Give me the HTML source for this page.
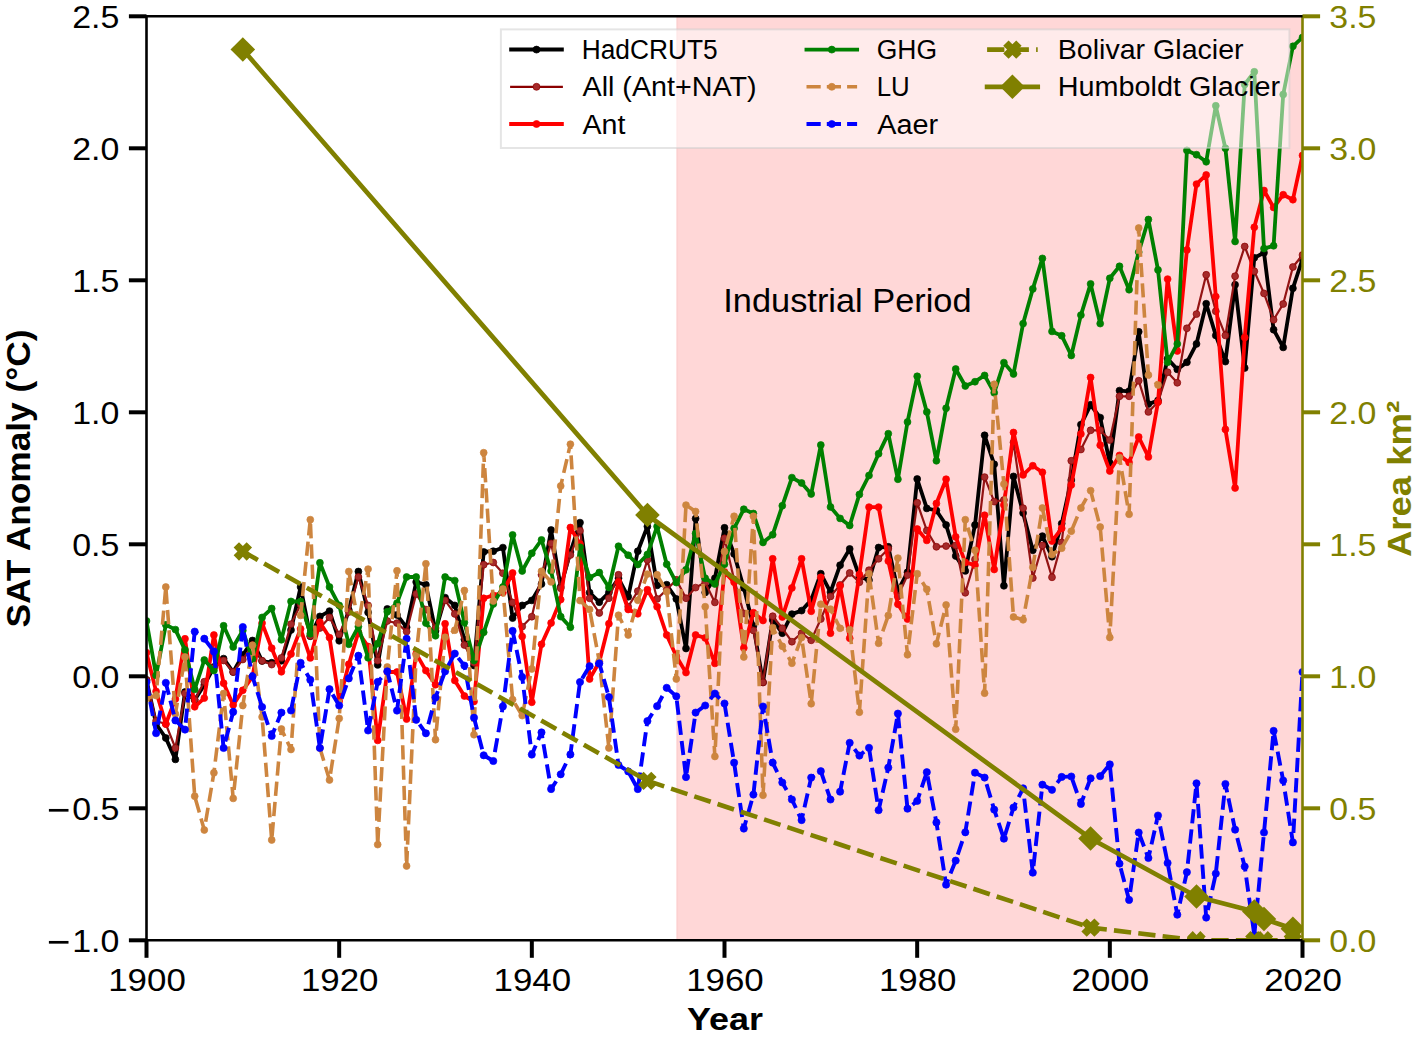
<!DOCTYPE html><html><head><meta charset="utf-8"><title>SAT anomaly</title><style>html,body{margin:0;padding:0;background:#fff;overflow:hidden;}svg{display:block;}</style></head><body><svg width="1416" height="1037" viewBox="0 0 1416 1037">
<rect x="0" y="0" width="1416" height="1037" fill="#ffffff"/>
<defs><clipPath id="ax"><rect x="146.5" y="16.3" width="1156.0" height="924.0"/></clipPath></defs>
<rect x="676.63" y="16.3" width="625.87" height="924.0" fill="#FFD7D7"/>
<line x1="677.33" y1="16.3" x2="677.33" y2="940.3" stroke="#FCD0D0" stroke-width="1.6"/>
<g clip-path="url(#ax)">
<polyline points="146.5,680.0 156.1,724.0 165.8,738.0 175.4,759.4 185.0,692.0 194.7,700.0 204.3,685.0 213.9,667.0 223.6,658.6 233.2,672.0 242.8,655.0 252.5,640.5 262.1,661.0 271.7,662.7 281.4,660.8 291.0,630.0 300.6,587.0 310.3,636.2 319.9,616.4 329.5,611.1 339.2,640.8 348.8,610.0 358.4,571.5 368.1,612.4 377.7,664.9 387.3,608.9 397.0,615.0 406.6,627.3 416.2,582.0 425.9,584.8 435.5,630.9 445.1,597.6 454.8,605.4 464.4,639.4 474.0,665.6 483.7,551.9 493.3,551.2 502.9,547.6 512.6,618.1 522.2,605.4 531.8,600.4 541.5,584.0 551.1,530.0 560.7,586.9 570.4,552.0 580.0,522.6 589.6,592.6 599.3,602.2 608.9,592.5 618.5,578.3 628.2,596.8 637.8,551.2 647.4,526.4 657.1,585.4 666.7,584.7 676.3,598.9 686.0,648.5 695.6,518.6 705.2,592.5 714.9,578.3 724.5,527.8 734.1,553.9 743.8,587.9 753.4,626.0 763.0,682.4 772.7,620.0 782.3,633.2 791.9,614.1 801.6,610.6 811.2,600.0 820.8,573.7 830.5,592.1 840.1,565.2 849.7,548.9 859.4,576.5 869.0,580.1 878.6,547.5 888.3,546.8 897.9,590.7 907.5,572.3 917.2,479.0 926.8,508.4 936.4,510.5 946.1,525.0 955.7,556.0 965.3,570.9 975.0,525.0 984.6,435.3 994.2,464.3 1003.9,585.8 1013.5,476.4 1023.1,513.0 1032.8,550.3 1042.4,536.1 1052.0,556.7 1061.7,523.6 1071.3,480.0 1080.9,424.6 1090.6,404.8 1100.2,417.6 1109.8,463.0 1119.5,390.6 1129.1,391.3 1138.7,331.8 1148.4,404.1 1158.0,400.5 1167.6,358.7 1177.3,369.4 1186.9,362.3 1196.5,343.9 1206.2,303.7 1215.8,335.4 1225.4,361.6 1235.1,284.7 1244.7,368.0 1254.3,257.8 1264.0,252.8 1273.6,329.7 1283.2,347.4 1292.9,288.3 1302.5,259.0" fill="none" stroke="#000000" stroke-width="3.8" stroke-linejoin="round"/>
<circle cx="146.5" cy="680.0" r="3.45" fill="#000000" stroke="#000000" stroke-width="0.7"/>
<circle cx="156.1" cy="724.0" r="3.45" fill="#000000" stroke="#000000" stroke-width="0.7"/>
<circle cx="165.8" cy="738.0" r="3.45" fill="#000000" stroke="#000000" stroke-width="0.7"/>
<circle cx="175.4" cy="759.4" r="3.45" fill="#000000" stroke="#000000" stroke-width="0.7"/>
<circle cx="185.0" cy="692.0" r="3.45" fill="#000000" stroke="#000000" stroke-width="0.7"/>
<circle cx="194.7" cy="700.0" r="3.45" fill="#000000" stroke="#000000" stroke-width="0.7"/>
<circle cx="204.3" cy="685.0" r="3.45" fill="#000000" stroke="#000000" stroke-width="0.7"/>
<circle cx="213.9" cy="667.0" r="3.45" fill="#000000" stroke="#000000" stroke-width="0.7"/>
<circle cx="223.6" cy="658.6" r="3.45" fill="#000000" stroke="#000000" stroke-width="0.7"/>
<circle cx="233.2" cy="672.0" r="3.45" fill="#000000" stroke="#000000" stroke-width="0.7"/>
<circle cx="242.8" cy="655.0" r="3.45" fill="#000000" stroke="#000000" stroke-width="0.7"/>
<circle cx="252.5" cy="640.5" r="3.45" fill="#000000" stroke="#000000" stroke-width="0.7"/>
<circle cx="262.1" cy="661.0" r="3.45" fill="#000000" stroke="#000000" stroke-width="0.7"/>
<circle cx="271.7" cy="662.7" r="3.45" fill="#000000" stroke="#000000" stroke-width="0.7"/>
<circle cx="281.4" cy="660.8" r="3.45" fill="#000000" stroke="#000000" stroke-width="0.7"/>
<circle cx="291.0" cy="630.0" r="3.45" fill="#000000" stroke="#000000" stroke-width="0.7"/>
<circle cx="300.6" cy="587.0" r="3.45" fill="#000000" stroke="#000000" stroke-width="0.7"/>
<circle cx="310.3" cy="636.2" r="3.45" fill="#000000" stroke="#000000" stroke-width="0.7"/>
<circle cx="319.9" cy="616.4" r="3.45" fill="#000000" stroke="#000000" stroke-width="0.7"/>
<circle cx="329.5" cy="611.1" r="3.45" fill="#000000" stroke="#000000" stroke-width="0.7"/>
<circle cx="339.2" cy="640.8" r="3.45" fill="#000000" stroke="#000000" stroke-width="0.7"/>
<circle cx="348.8" cy="610.0" r="3.45" fill="#000000" stroke="#000000" stroke-width="0.7"/>
<circle cx="358.4" cy="571.5" r="3.45" fill="#000000" stroke="#000000" stroke-width="0.7"/>
<circle cx="368.1" cy="612.4" r="3.45" fill="#000000" stroke="#000000" stroke-width="0.7"/>
<circle cx="377.7" cy="664.9" r="3.45" fill="#000000" stroke="#000000" stroke-width="0.7"/>
<circle cx="387.3" cy="608.9" r="3.45" fill="#000000" stroke="#000000" stroke-width="0.7"/>
<circle cx="397.0" cy="615.0" r="3.45" fill="#000000" stroke="#000000" stroke-width="0.7"/>
<circle cx="406.6" cy="627.3" r="3.45" fill="#000000" stroke="#000000" stroke-width="0.7"/>
<circle cx="416.2" cy="582.0" r="3.45" fill="#000000" stroke="#000000" stroke-width="0.7"/>
<circle cx="425.9" cy="584.8" r="3.45" fill="#000000" stroke="#000000" stroke-width="0.7"/>
<circle cx="435.5" cy="630.9" r="3.45" fill="#000000" stroke="#000000" stroke-width="0.7"/>
<circle cx="445.1" cy="597.6" r="3.45" fill="#000000" stroke="#000000" stroke-width="0.7"/>
<circle cx="454.8" cy="605.4" r="3.45" fill="#000000" stroke="#000000" stroke-width="0.7"/>
<circle cx="464.4" cy="639.4" r="3.45" fill="#000000" stroke="#000000" stroke-width="0.7"/>
<circle cx="474.0" cy="665.6" r="3.45" fill="#000000" stroke="#000000" stroke-width="0.7"/>
<circle cx="483.7" cy="551.9" r="3.45" fill="#000000" stroke="#000000" stroke-width="0.7"/>
<circle cx="493.3" cy="551.2" r="3.45" fill="#000000" stroke="#000000" stroke-width="0.7"/>
<circle cx="502.9" cy="547.6" r="3.45" fill="#000000" stroke="#000000" stroke-width="0.7"/>
<circle cx="512.6" cy="618.1" r="3.45" fill="#000000" stroke="#000000" stroke-width="0.7"/>
<circle cx="522.2" cy="605.4" r="3.45" fill="#000000" stroke="#000000" stroke-width="0.7"/>
<circle cx="531.8" cy="600.4" r="3.45" fill="#000000" stroke="#000000" stroke-width="0.7"/>
<circle cx="541.5" cy="584.0" r="3.45" fill="#000000" stroke="#000000" stroke-width="0.7"/>
<circle cx="551.1" cy="530.0" r="3.45" fill="#000000" stroke="#000000" stroke-width="0.7"/>
<circle cx="560.7" cy="586.9" r="3.45" fill="#000000" stroke="#000000" stroke-width="0.7"/>
<circle cx="570.4" cy="552.0" r="3.45" fill="#000000" stroke="#000000" stroke-width="0.7"/>
<circle cx="580.0" cy="522.6" r="3.45" fill="#000000" stroke="#000000" stroke-width="0.7"/>
<circle cx="589.6" cy="592.6" r="3.45" fill="#000000" stroke="#000000" stroke-width="0.7"/>
<circle cx="599.3" cy="602.2" r="3.45" fill="#000000" stroke="#000000" stroke-width="0.7"/>
<circle cx="608.9" cy="592.5" r="3.45" fill="#000000" stroke="#000000" stroke-width="0.7"/>
<circle cx="618.5" cy="578.3" r="3.45" fill="#000000" stroke="#000000" stroke-width="0.7"/>
<circle cx="628.2" cy="596.8" r="3.45" fill="#000000" stroke="#000000" stroke-width="0.7"/>
<circle cx="637.8" cy="551.2" r="3.45" fill="#000000" stroke="#000000" stroke-width="0.7"/>
<circle cx="647.4" cy="526.4" r="3.45" fill="#000000" stroke="#000000" stroke-width="0.7"/>
<circle cx="657.1" cy="585.4" r="3.45" fill="#000000" stroke="#000000" stroke-width="0.7"/>
<circle cx="666.7" cy="584.7" r="3.45" fill="#000000" stroke="#000000" stroke-width="0.7"/>
<circle cx="676.3" cy="598.9" r="3.45" fill="#000000" stroke="#000000" stroke-width="0.7"/>
<circle cx="686.0" cy="648.5" r="3.45" fill="#000000" stroke="#000000" stroke-width="0.7"/>
<circle cx="695.6" cy="518.6" r="3.45" fill="#000000" stroke="#000000" stroke-width="0.7"/>
<circle cx="705.2" cy="592.5" r="3.45" fill="#000000" stroke="#000000" stroke-width="0.7"/>
<circle cx="714.9" cy="578.3" r="3.45" fill="#000000" stroke="#000000" stroke-width="0.7"/>
<circle cx="724.5" cy="527.8" r="3.45" fill="#000000" stroke="#000000" stroke-width="0.7"/>
<circle cx="734.1" cy="553.9" r="3.45" fill="#000000" stroke="#000000" stroke-width="0.7"/>
<circle cx="743.8" cy="587.9" r="3.45" fill="#000000" stroke="#000000" stroke-width="0.7"/>
<circle cx="753.4" cy="626.0" r="3.45" fill="#000000" stroke="#000000" stroke-width="0.7"/>
<circle cx="763.0" cy="682.4" r="3.45" fill="#000000" stroke="#000000" stroke-width="0.7"/>
<circle cx="772.7" cy="620.0" r="3.45" fill="#000000" stroke="#000000" stroke-width="0.7"/>
<circle cx="782.3" cy="633.2" r="3.45" fill="#000000" stroke="#000000" stroke-width="0.7"/>
<circle cx="791.9" cy="614.1" r="3.45" fill="#000000" stroke="#000000" stroke-width="0.7"/>
<circle cx="801.6" cy="610.6" r="3.45" fill="#000000" stroke="#000000" stroke-width="0.7"/>
<circle cx="811.2" cy="600.0" r="3.45" fill="#000000" stroke="#000000" stroke-width="0.7"/>
<circle cx="820.8" cy="573.7" r="3.45" fill="#000000" stroke="#000000" stroke-width="0.7"/>
<circle cx="830.5" cy="592.1" r="3.45" fill="#000000" stroke="#000000" stroke-width="0.7"/>
<circle cx="840.1" cy="565.2" r="3.45" fill="#000000" stroke="#000000" stroke-width="0.7"/>
<circle cx="849.7" cy="548.9" r="3.45" fill="#000000" stroke="#000000" stroke-width="0.7"/>
<circle cx="859.4" cy="576.5" r="3.45" fill="#000000" stroke="#000000" stroke-width="0.7"/>
<circle cx="869.0" cy="580.1" r="3.45" fill="#000000" stroke="#000000" stroke-width="0.7"/>
<circle cx="878.6" cy="547.5" r="3.45" fill="#000000" stroke="#000000" stroke-width="0.7"/>
<circle cx="888.3" cy="546.8" r="3.45" fill="#000000" stroke="#000000" stroke-width="0.7"/>
<circle cx="897.9" cy="590.7" r="3.45" fill="#000000" stroke="#000000" stroke-width="0.7"/>
<circle cx="907.5" cy="572.3" r="3.45" fill="#000000" stroke="#000000" stroke-width="0.7"/>
<circle cx="917.2" cy="479.0" r="3.45" fill="#000000" stroke="#000000" stroke-width="0.7"/>
<circle cx="926.8" cy="508.4" r="3.45" fill="#000000" stroke="#000000" stroke-width="0.7"/>
<circle cx="936.4" cy="510.5" r="3.45" fill="#000000" stroke="#000000" stroke-width="0.7"/>
<circle cx="946.1" cy="525.0" r="3.45" fill="#000000" stroke="#000000" stroke-width="0.7"/>
<circle cx="955.7" cy="556.0" r="3.45" fill="#000000" stroke="#000000" stroke-width="0.7"/>
<circle cx="965.3" cy="570.9" r="3.45" fill="#000000" stroke="#000000" stroke-width="0.7"/>
<circle cx="975.0" cy="525.0" r="3.45" fill="#000000" stroke="#000000" stroke-width="0.7"/>
<circle cx="984.6" cy="435.3" r="3.45" fill="#000000" stroke="#000000" stroke-width="0.7"/>
<circle cx="994.2" cy="464.3" r="3.45" fill="#000000" stroke="#000000" stroke-width="0.7"/>
<circle cx="1003.9" cy="585.8" r="3.45" fill="#000000" stroke="#000000" stroke-width="0.7"/>
<circle cx="1013.5" cy="476.4" r="3.45" fill="#000000" stroke="#000000" stroke-width="0.7"/>
<circle cx="1023.1" cy="513.0" r="3.45" fill="#000000" stroke="#000000" stroke-width="0.7"/>
<circle cx="1032.8" cy="550.3" r="3.45" fill="#000000" stroke="#000000" stroke-width="0.7"/>
<circle cx="1042.4" cy="536.1" r="3.45" fill="#000000" stroke="#000000" stroke-width="0.7"/>
<circle cx="1052.0" cy="556.7" r="3.45" fill="#000000" stroke="#000000" stroke-width="0.7"/>
<circle cx="1061.7" cy="523.6" r="3.45" fill="#000000" stroke="#000000" stroke-width="0.7"/>
<circle cx="1071.3" cy="480.0" r="3.45" fill="#000000" stroke="#000000" stroke-width="0.7"/>
<circle cx="1080.9" cy="424.6" r="3.45" fill="#000000" stroke="#000000" stroke-width="0.7"/>
<circle cx="1090.6" cy="404.8" r="3.45" fill="#000000" stroke="#000000" stroke-width="0.7"/>
<circle cx="1100.2" cy="417.6" r="3.45" fill="#000000" stroke="#000000" stroke-width="0.7"/>
<circle cx="1109.8" cy="463.0" r="3.45" fill="#000000" stroke="#000000" stroke-width="0.7"/>
<circle cx="1119.5" cy="390.6" r="3.45" fill="#000000" stroke="#000000" stroke-width="0.7"/>
<circle cx="1129.1" cy="391.3" r="3.45" fill="#000000" stroke="#000000" stroke-width="0.7"/>
<circle cx="1138.7" cy="331.8" r="3.45" fill="#000000" stroke="#000000" stroke-width="0.7"/>
<circle cx="1148.4" cy="404.1" r="3.45" fill="#000000" stroke="#000000" stroke-width="0.7"/>
<circle cx="1158.0" cy="400.5" r="3.45" fill="#000000" stroke="#000000" stroke-width="0.7"/>
<circle cx="1167.6" cy="358.7" r="3.45" fill="#000000" stroke="#000000" stroke-width="0.7"/>
<circle cx="1177.3" cy="369.4" r="3.45" fill="#000000" stroke="#000000" stroke-width="0.7"/>
<circle cx="1186.9" cy="362.3" r="3.45" fill="#000000" stroke="#000000" stroke-width="0.7"/>
<circle cx="1196.5" cy="343.9" r="3.45" fill="#000000" stroke="#000000" stroke-width="0.7"/>
<circle cx="1206.2" cy="303.7" r="3.45" fill="#000000" stroke="#000000" stroke-width="0.7"/>
<circle cx="1215.8" cy="335.4" r="3.45" fill="#000000" stroke="#000000" stroke-width="0.7"/>
<circle cx="1225.4" cy="361.6" r="3.45" fill="#000000" stroke="#000000" stroke-width="0.7"/>
<circle cx="1235.1" cy="284.7" r="3.45" fill="#000000" stroke="#000000" stroke-width="0.7"/>
<circle cx="1244.7" cy="368.0" r="3.45" fill="#000000" stroke="#000000" stroke-width="0.7"/>
<circle cx="1254.3" cy="257.8" r="3.45" fill="#000000" stroke="#000000" stroke-width="0.7"/>
<circle cx="1264.0" cy="252.8" r="3.45" fill="#000000" stroke="#000000" stroke-width="0.7"/>
<circle cx="1273.6" cy="329.7" r="3.45" fill="#000000" stroke="#000000" stroke-width="0.7"/>
<circle cx="1283.2" cy="347.4" r="3.45" fill="#000000" stroke="#000000" stroke-width="0.7"/>
<circle cx="1292.9" cy="288.3" r="3.45" fill="#000000" stroke="#000000" stroke-width="0.7"/>
<circle cx="1302.5" cy="259.0" r="3.45" fill="#000000" stroke="#000000" stroke-width="0.7"/>
</g>
<g clip-path="url(#ax)">
<polyline points="146.5,680.0 156.1,721.0 165.8,724.0 175.4,748.0 185.0,693.5 194.7,700.0 204.3,681.7 213.9,668.0 223.6,660.5 233.2,672.0 242.8,659.5 252.5,645.0 262.1,660.8 271.7,664.6 281.4,657.9 291.0,624.1 300.6,604.8 310.3,636.0 319.9,628.0 329.5,617.4 339.2,634.4 348.8,612.0 358.4,577.0 368.1,605.4 377.7,660.6 387.3,621.0 397.0,623.1 406.6,631.6 416.2,594.0 425.9,609.6 435.5,628.0 445.1,600.4 454.8,613.9 464.4,645.0 474.0,662.8 483.7,564.7 493.3,562.5 502.9,573.2 512.6,602.5 522.2,626.6 531.8,616.7 541.5,574.8 551.1,543.4 560.7,588.3 570.4,555.0 580.0,530.7 589.6,598.3 599.3,613.0 608.9,598.2 618.5,574.8 628.2,606.7 637.8,591.1 647.4,559.9 657.1,598.9 666.7,589.7 676.3,579.8 686.0,598.2 695.6,587.6 705.2,582.6 714.9,602.4 724.5,538.3 734.1,579.4 743.8,613.4 753.4,630.4 763.0,682.4 772.7,616.2 782.3,628.3 791.9,641.7 801.6,633.2 811.2,640.3 820.8,619.0 830.5,596.4 840.1,585.0 849.7,573.0 859.4,582.2 869.0,570.2 878.6,558.8 888.3,548.9 897.9,596.4 907.5,575.1 917.2,502.8 926.8,530.5 936.4,546.8 946.1,546.1 955.7,545.4 965.3,592.8 975.0,559.5 984.6,477.1 994.2,501.6 1003.9,500.0 1013.5,442.4 1023.1,508.2 1032.8,578.0 1042.4,545.4 1052.0,577.3 1061.7,542.5 1071.3,460.8 1080.9,449.5 1090.6,430.3 1100.2,430.3 1109.8,440.0 1119.5,396.3 1129.1,396.3 1138.7,380.7 1148.4,411.9 1158.0,402.0 1167.6,372.2 1177.3,382.8 1186.9,328.3 1196.5,314.1 1206.2,274.8 1215.8,311.3 1225.4,335.4 1235.1,276.2 1244.7,246.5 1254.3,271.3 1264.0,293.4 1273.6,319.8 1283.2,304.0 1292.9,267.0 1302.5,255.0" fill="none" stroke="#941414" stroke-width="2.2" stroke-linejoin="round"/>
<circle cx="146.5" cy="680.0" r="3.45" fill="#a52a2a" stroke="#8b0000" stroke-width="0.7"/>
<circle cx="156.1" cy="721.0" r="3.45" fill="#a52a2a" stroke="#8b0000" stroke-width="0.7"/>
<circle cx="165.8" cy="724.0" r="3.45" fill="#a52a2a" stroke="#8b0000" stroke-width="0.7"/>
<circle cx="175.4" cy="748.0" r="3.45" fill="#a52a2a" stroke="#8b0000" stroke-width="0.7"/>
<circle cx="185.0" cy="693.5" r="3.45" fill="#a52a2a" stroke="#8b0000" stroke-width="0.7"/>
<circle cx="194.7" cy="700.0" r="3.45" fill="#a52a2a" stroke="#8b0000" stroke-width="0.7"/>
<circle cx="204.3" cy="681.7" r="3.45" fill="#a52a2a" stroke="#8b0000" stroke-width="0.7"/>
<circle cx="213.9" cy="668.0" r="3.45" fill="#a52a2a" stroke="#8b0000" stroke-width="0.7"/>
<circle cx="223.6" cy="660.5" r="3.45" fill="#a52a2a" stroke="#8b0000" stroke-width="0.7"/>
<circle cx="233.2" cy="672.0" r="3.45" fill="#a52a2a" stroke="#8b0000" stroke-width="0.7"/>
<circle cx="242.8" cy="659.5" r="3.45" fill="#a52a2a" stroke="#8b0000" stroke-width="0.7"/>
<circle cx="252.5" cy="645.0" r="3.45" fill="#a52a2a" stroke="#8b0000" stroke-width="0.7"/>
<circle cx="262.1" cy="660.8" r="3.45" fill="#a52a2a" stroke="#8b0000" stroke-width="0.7"/>
<circle cx="271.7" cy="664.6" r="3.45" fill="#a52a2a" stroke="#8b0000" stroke-width="0.7"/>
<circle cx="281.4" cy="657.9" r="3.45" fill="#a52a2a" stroke="#8b0000" stroke-width="0.7"/>
<circle cx="291.0" cy="624.1" r="3.45" fill="#a52a2a" stroke="#8b0000" stroke-width="0.7"/>
<circle cx="300.6" cy="604.8" r="3.45" fill="#a52a2a" stroke="#8b0000" stroke-width="0.7"/>
<circle cx="310.3" cy="636.0" r="3.45" fill="#a52a2a" stroke="#8b0000" stroke-width="0.7"/>
<circle cx="319.9" cy="628.0" r="3.45" fill="#a52a2a" stroke="#8b0000" stroke-width="0.7"/>
<circle cx="329.5" cy="617.4" r="3.45" fill="#a52a2a" stroke="#8b0000" stroke-width="0.7"/>
<circle cx="339.2" cy="634.4" r="3.45" fill="#a52a2a" stroke="#8b0000" stroke-width="0.7"/>
<circle cx="348.8" cy="612.0" r="3.45" fill="#a52a2a" stroke="#8b0000" stroke-width="0.7"/>
<circle cx="358.4" cy="577.0" r="3.45" fill="#a52a2a" stroke="#8b0000" stroke-width="0.7"/>
<circle cx="368.1" cy="605.4" r="3.45" fill="#a52a2a" stroke="#8b0000" stroke-width="0.7"/>
<circle cx="377.7" cy="660.6" r="3.45" fill="#a52a2a" stroke="#8b0000" stroke-width="0.7"/>
<circle cx="387.3" cy="621.0" r="3.45" fill="#a52a2a" stroke="#8b0000" stroke-width="0.7"/>
<circle cx="397.0" cy="623.1" r="3.45" fill="#a52a2a" stroke="#8b0000" stroke-width="0.7"/>
<circle cx="406.6" cy="631.6" r="3.45" fill="#a52a2a" stroke="#8b0000" stroke-width="0.7"/>
<circle cx="416.2" cy="594.0" r="3.45" fill="#a52a2a" stroke="#8b0000" stroke-width="0.7"/>
<circle cx="425.9" cy="609.6" r="3.45" fill="#a52a2a" stroke="#8b0000" stroke-width="0.7"/>
<circle cx="435.5" cy="628.0" r="3.45" fill="#a52a2a" stroke="#8b0000" stroke-width="0.7"/>
<circle cx="445.1" cy="600.4" r="3.45" fill="#a52a2a" stroke="#8b0000" stroke-width="0.7"/>
<circle cx="454.8" cy="613.9" r="3.45" fill="#a52a2a" stroke="#8b0000" stroke-width="0.7"/>
<circle cx="464.4" cy="645.0" r="3.45" fill="#a52a2a" stroke="#8b0000" stroke-width="0.7"/>
<circle cx="474.0" cy="662.8" r="3.45" fill="#a52a2a" stroke="#8b0000" stroke-width="0.7"/>
<circle cx="483.7" cy="564.7" r="3.45" fill="#a52a2a" stroke="#8b0000" stroke-width="0.7"/>
<circle cx="493.3" cy="562.5" r="3.45" fill="#a52a2a" stroke="#8b0000" stroke-width="0.7"/>
<circle cx="502.9" cy="573.2" r="3.45" fill="#a52a2a" stroke="#8b0000" stroke-width="0.7"/>
<circle cx="512.6" cy="602.5" r="3.45" fill="#a52a2a" stroke="#8b0000" stroke-width="0.7"/>
<circle cx="522.2" cy="626.6" r="3.45" fill="#a52a2a" stroke="#8b0000" stroke-width="0.7"/>
<circle cx="531.8" cy="616.7" r="3.45" fill="#a52a2a" stroke="#8b0000" stroke-width="0.7"/>
<circle cx="541.5" cy="574.8" r="3.45" fill="#a52a2a" stroke="#8b0000" stroke-width="0.7"/>
<circle cx="551.1" cy="543.4" r="3.45" fill="#a52a2a" stroke="#8b0000" stroke-width="0.7"/>
<circle cx="560.7" cy="588.3" r="3.45" fill="#a52a2a" stroke="#8b0000" stroke-width="0.7"/>
<circle cx="570.4" cy="555.0" r="3.45" fill="#a52a2a" stroke="#8b0000" stroke-width="0.7"/>
<circle cx="580.0" cy="530.7" r="3.45" fill="#a52a2a" stroke="#8b0000" stroke-width="0.7"/>
<circle cx="589.6" cy="598.3" r="3.45" fill="#a52a2a" stroke="#8b0000" stroke-width="0.7"/>
<circle cx="599.3" cy="613.0" r="3.45" fill="#a52a2a" stroke="#8b0000" stroke-width="0.7"/>
<circle cx="608.9" cy="598.2" r="3.45" fill="#a52a2a" stroke="#8b0000" stroke-width="0.7"/>
<circle cx="618.5" cy="574.8" r="3.45" fill="#a52a2a" stroke="#8b0000" stroke-width="0.7"/>
<circle cx="628.2" cy="606.7" r="3.45" fill="#a52a2a" stroke="#8b0000" stroke-width="0.7"/>
<circle cx="637.8" cy="591.1" r="3.45" fill="#a52a2a" stroke="#8b0000" stroke-width="0.7"/>
<circle cx="647.4" cy="559.9" r="3.45" fill="#a52a2a" stroke="#8b0000" stroke-width="0.7"/>
<circle cx="657.1" cy="598.9" r="3.45" fill="#a52a2a" stroke="#8b0000" stroke-width="0.7"/>
<circle cx="666.7" cy="589.7" r="3.45" fill="#a52a2a" stroke="#8b0000" stroke-width="0.7"/>
<circle cx="676.3" cy="579.8" r="3.45" fill="#a52a2a" stroke="#8b0000" stroke-width="0.7"/>
<circle cx="686.0" cy="598.2" r="3.45" fill="#a52a2a" stroke="#8b0000" stroke-width="0.7"/>
<circle cx="695.6" cy="587.6" r="3.45" fill="#a52a2a" stroke="#8b0000" stroke-width="0.7"/>
<circle cx="705.2" cy="582.6" r="3.45" fill="#a52a2a" stroke="#8b0000" stroke-width="0.7"/>
<circle cx="714.9" cy="602.4" r="3.45" fill="#a52a2a" stroke="#8b0000" stroke-width="0.7"/>
<circle cx="724.5" cy="538.3" r="3.45" fill="#a52a2a" stroke="#8b0000" stroke-width="0.7"/>
<circle cx="734.1" cy="579.4" r="3.45" fill="#a52a2a" stroke="#8b0000" stroke-width="0.7"/>
<circle cx="743.8" cy="613.4" r="3.45" fill="#a52a2a" stroke="#8b0000" stroke-width="0.7"/>
<circle cx="753.4" cy="630.4" r="3.45" fill="#a52a2a" stroke="#8b0000" stroke-width="0.7"/>
<circle cx="763.0" cy="682.4" r="3.45" fill="#a52a2a" stroke="#8b0000" stroke-width="0.7"/>
<circle cx="772.7" cy="616.2" r="3.45" fill="#a52a2a" stroke="#8b0000" stroke-width="0.7"/>
<circle cx="782.3" cy="628.3" r="3.45" fill="#a52a2a" stroke="#8b0000" stroke-width="0.7"/>
<circle cx="791.9" cy="641.7" r="3.45" fill="#a52a2a" stroke="#8b0000" stroke-width="0.7"/>
<circle cx="801.6" cy="633.2" r="3.45" fill="#a52a2a" stroke="#8b0000" stroke-width="0.7"/>
<circle cx="811.2" cy="640.3" r="3.45" fill="#a52a2a" stroke="#8b0000" stroke-width="0.7"/>
<circle cx="820.8" cy="619.0" r="3.45" fill="#a52a2a" stroke="#8b0000" stroke-width="0.7"/>
<circle cx="830.5" cy="596.4" r="3.45" fill="#a52a2a" stroke="#8b0000" stroke-width="0.7"/>
<circle cx="840.1" cy="585.0" r="3.45" fill="#a52a2a" stroke="#8b0000" stroke-width="0.7"/>
<circle cx="849.7" cy="573.0" r="3.45" fill="#a52a2a" stroke="#8b0000" stroke-width="0.7"/>
<circle cx="859.4" cy="582.2" r="3.45" fill="#a52a2a" stroke="#8b0000" stroke-width="0.7"/>
<circle cx="869.0" cy="570.2" r="3.45" fill="#a52a2a" stroke="#8b0000" stroke-width="0.7"/>
<circle cx="878.6" cy="558.8" r="3.45" fill="#a52a2a" stroke="#8b0000" stroke-width="0.7"/>
<circle cx="888.3" cy="548.9" r="3.45" fill="#a52a2a" stroke="#8b0000" stroke-width="0.7"/>
<circle cx="897.9" cy="596.4" r="3.45" fill="#a52a2a" stroke="#8b0000" stroke-width="0.7"/>
<circle cx="907.5" cy="575.1" r="3.45" fill="#a52a2a" stroke="#8b0000" stroke-width="0.7"/>
<circle cx="917.2" cy="502.8" r="3.45" fill="#a52a2a" stroke="#8b0000" stroke-width="0.7"/>
<circle cx="926.8" cy="530.5" r="3.45" fill="#a52a2a" stroke="#8b0000" stroke-width="0.7"/>
<circle cx="936.4" cy="546.8" r="3.45" fill="#a52a2a" stroke="#8b0000" stroke-width="0.7"/>
<circle cx="946.1" cy="546.1" r="3.45" fill="#a52a2a" stroke="#8b0000" stroke-width="0.7"/>
<circle cx="955.7" cy="545.4" r="3.45" fill="#a52a2a" stroke="#8b0000" stroke-width="0.7"/>
<circle cx="965.3" cy="592.8" r="3.45" fill="#a52a2a" stroke="#8b0000" stroke-width="0.7"/>
<circle cx="975.0" cy="559.5" r="3.45" fill="#a52a2a" stroke="#8b0000" stroke-width="0.7"/>
<circle cx="984.6" cy="477.1" r="3.45" fill="#a52a2a" stroke="#8b0000" stroke-width="0.7"/>
<circle cx="994.2" cy="501.6" r="3.45" fill="#a52a2a" stroke="#8b0000" stroke-width="0.7"/>
<circle cx="1003.9" cy="500.0" r="3.45" fill="#a52a2a" stroke="#8b0000" stroke-width="0.7"/>
<circle cx="1013.5" cy="442.4" r="3.45" fill="#a52a2a" stroke="#8b0000" stroke-width="0.7"/>
<circle cx="1023.1" cy="508.2" r="3.45" fill="#a52a2a" stroke="#8b0000" stroke-width="0.7"/>
<circle cx="1032.8" cy="578.0" r="3.45" fill="#a52a2a" stroke="#8b0000" stroke-width="0.7"/>
<circle cx="1042.4" cy="545.4" r="3.45" fill="#a52a2a" stroke="#8b0000" stroke-width="0.7"/>
<circle cx="1052.0" cy="577.3" r="3.45" fill="#a52a2a" stroke="#8b0000" stroke-width="0.7"/>
<circle cx="1061.7" cy="542.5" r="3.45" fill="#a52a2a" stroke="#8b0000" stroke-width="0.7"/>
<circle cx="1071.3" cy="460.8" r="3.45" fill="#a52a2a" stroke="#8b0000" stroke-width="0.7"/>
<circle cx="1080.9" cy="449.5" r="3.45" fill="#a52a2a" stroke="#8b0000" stroke-width="0.7"/>
<circle cx="1090.6" cy="430.3" r="3.45" fill="#a52a2a" stroke="#8b0000" stroke-width="0.7"/>
<circle cx="1100.2" cy="430.3" r="3.45" fill="#a52a2a" stroke="#8b0000" stroke-width="0.7"/>
<circle cx="1109.8" cy="440.0" r="3.45" fill="#a52a2a" stroke="#8b0000" stroke-width="0.7"/>
<circle cx="1119.5" cy="396.3" r="3.45" fill="#a52a2a" stroke="#8b0000" stroke-width="0.7"/>
<circle cx="1129.1" cy="396.3" r="3.45" fill="#a52a2a" stroke="#8b0000" stroke-width="0.7"/>
<circle cx="1138.7" cy="380.7" r="3.45" fill="#a52a2a" stroke="#8b0000" stroke-width="0.7"/>
<circle cx="1148.4" cy="411.9" r="3.45" fill="#a52a2a" stroke="#8b0000" stroke-width="0.7"/>
<circle cx="1158.0" cy="402.0" r="3.45" fill="#a52a2a" stroke="#8b0000" stroke-width="0.7"/>
<circle cx="1167.6" cy="372.2" r="3.45" fill="#a52a2a" stroke="#8b0000" stroke-width="0.7"/>
<circle cx="1177.3" cy="382.8" r="3.45" fill="#a52a2a" stroke="#8b0000" stroke-width="0.7"/>
<circle cx="1186.9" cy="328.3" r="3.45" fill="#a52a2a" stroke="#8b0000" stroke-width="0.7"/>
<circle cx="1196.5" cy="314.1" r="3.45" fill="#a52a2a" stroke="#8b0000" stroke-width="0.7"/>
<circle cx="1206.2" cy="274.8" r="3.45" fill="#a52a2a" stroke="#8b0000" stroke-width="0.7"/>
<circle cx="1215.8" cy="311.3" r="3.45" fill="#a52a2a" stroke="#8b0000" stroke-width="0.7"/>
<circle cx="1225.4" cy="335.4" r="3.45" fill="#a52a2a" stroke="#8b0000" stroke-width="0.7"/>
<circle cx="1235.1" cy="276.2" r="3.45" fill="#a52a2a" stroke="#8b0000" stroke-width="0.7"/>
<circle cx="1244.7" cy="246.5" r="3.45" fill="#a52a2a" stroke="#8b0000" stroke-width="0.7"/>
<circle cx="1254.3" cy="271.3" r="3.45" fill="#a52a2a" stroke="#8b0000" stroke-width="0.7"/>
<circle cx="1264.0" cy="293.4" r="3.45" fill="#a52a2a" stroke="#8b0000" stroke-width="0.7"/>
<circle cx="1273.6" cy="319.8" r="3.45" fill="#a52a2a" stroke="#8b0000" stroke-width="0.7"/>
<circle cx="1283.2" cy="304.0" r="3.45" fill="#a52a2a" stroke="#8b0000" stroke-width="0.7"/>
<circle cx="1292.9" cy="267.0" r="3.45" fill="#a52a2a" stroke="#8b0000" stroke-width="0.7"/>
<circle cx="1302.5" cy="255.0" r="3.45" fill="#a52a2a" stroke="#8b0000" stroke-width="0.7"/>
</g>
<g clip-path="url(#ax)">
<polyline points="146.5,652.8 156.1,691.4 165.8,724.0 175.4,699.0 185.0,638.8 194.7,706.8 204.3,698.1 213.9,635.0 223.6,683.2 233.2,704.9 242.8,690.3 252.5,676.7 262.1,623.1 271.7,648.2 281.4,671.8 291.0,654.0 300.6,628.9 310.3,657.9 319.9,622.2 329.5,637.6 339.2,701.0 348.8,664.2 358.4,632.3 368.1,646.5 377.7,740.4 387.3,672.0 397.0,672.0 406.6,719.1 416.2,653.6 425.9,670.6 435.5,684.7 445.1,623.8 454.8,680.5 464.4,696.0 474.0,701.5 483.7,598.3 493.3,595.4 502.9,592.6 512.6,573.0 522.2,636.5 531.8,702.3 541.5,644.3 551.1,623.0 560.7,599.6 570.4,527.5 580.0,544.0 589.6,679.0 599.3,662.0 608.9,623.7 618.5,581.9 628.2,609.5 637.8,613.8 647.4,589.7 657.1,606.7 666.7,635.0 676.3,656.3 686.0,672.6 695.6,635.0 705.2,637.9 714.9,663.4 724.5,572.0 734.1,582.2 743.8,648.0 753.4,612.7 763.0,620.5 772.7,558.8 782.3,617.0 791.9,587.9 801.6,558.8 811.2,611.3 820.8,577.3 830.5,633.2 840.1,585.8 849.7,638.2 859.4,574.4 869.0,507.1 878.6,507.1 888.3,561.0 897.9,604.2 907.5,619.1 917.2,529.0 926.8,540.4 936.4,503.5 946.1,479.2 955.7,536.9 965.3,562.4 975.0,565.2 984.6,515.2 994.2,569.5 1003.9,505.0 1013.5,432.5 1023.1,474.9 1032.8,465.7 1042.4,472.3 1052.0,541.1 1061.7,528.3 1071.3,484.9 1080.9,433.9 1090.6,377.5 1100.2,445.2 1109.8,471.0 1119.5,455.4 1129.1,462.5 1138.7,437.0 1148.4,456.9 1158.0,402.0 1167.6,279.1 1177.3,351.0 1186.9,250.0 1196.5,184.1 1206.2,174.9 1215.8,296.6 1225.4,429.4 1235.1,488.0 1244.7,337.5 1254.3,227.3 1264.0,190.5 1273.6,207.5 1283.2,194.7 1292.9,199.7 1302.5,155.4" fill="none" stroke="#ff0000" stroke-width="3.8" stroke-linejoin="round"/>
<circle cx="146.5" cy="652.8" r="3.45" fill="#ff0000" stroke="#ff0000" stroke-width="0.7"/>
<circle cx="156.1" cy="691.4" r="3.45" fill="#ff0000" stroke="#ff0000" stroke-width="0.7"/>
<circle cx="165.8" cy="724.0" r="3.45" fill="#ff0000" stroke="#ff0000" stroke-width="0.7"/>
<circle cx="175.4" cy="699.0" r="3.45" fill="#ff0000" stroke="#ff0000" stroke-width="0.7"/>
<circle cx="185.0" cy="638.8" r="3.45" fill="#ff0000" stroke="#ff0000" stroke-width="0.7"/>
<circle cx="194.7" cy="706.8" r="3.45" fill="#ff0000" stroke="#ff0000" stroke-width="0.7"/>
<circle cx="204.3" cy="698.1" r="3.45" fill="#ff0000" stroke="#ff0000" stroke-width="0.7"/>
<circle cx="213.9" cy="635.0" r="3.45" fill="#ff0000" stroke="#ff0000" stroke-width="0.7"/>
<circle cx="223.6" cy="683.2" r="3.45" fill="#ff0000" stroke="#ff0000" stroke-width="0.7"/>
<circle cx="233.2" cy="704.9" r="3.45" fill="#ff0000" stroke="#ff0000" stroke-width="0.7"/>
<circle cx="242.8" cy="690.3" r="3.45" fill="#ff0000" stroke="#ff0000" stroke-width="0.7"/>
<circle cx="252.5" cy="676.7" r="3.45" fill="#ff0000" stroke="#ff0000" stroke-width="0.7"/>
<circle cx="262.1" cy="623.1" r="3.45" fill="#ff0000" stroke="#ff0000" stroke-width="0.7"/>
<circle cx="271.7" cy="648.2" r="3.45" fill="#ff0000" stroke="#ff0000" stroke-width="0.7"/>
<circle cx="281.4" cy="671.8" r="3.45" fill="#ff0000" stroke="#ff0000" stroke-width="0.7"/>
<circle cx="291.0" cy="654.0" r="3.45" fill="#ff0000" stroke="#ff0000" stroke-width="0.7"/>
<circle cx="300.6" cy="628.9" r="3.45" fill="#ff0000" stroke="#ff0000" stroke-width="0.7"/>
<circle cx="310.3" cy="657.9" r="3.45" fill="#ff0000" stroke="#ff0000" stroke-width="0.7"/>
<circle cx="319.9" cy="622.2" r="3.45" fill="#ff0000" stroke="#ff0000" stroke-width="0.7"/>
<circle cx="329.5" cy="637.6" r="3.45" fill="#ff0000" stroke="#ff0000" stroke-width="0.7"/>
<circle cx="339.2" cy="701.0" r="3.45" fill="#ff0000" stroke="#ff0000" stroke-width="0.7"/>
<circle cx="348.8" cy="664.2" r="3.45" fill="#ff0000" stroke="#ff0000" stroke-width="0.7"/>
<circle cx="358.4" cy="632.3" r="3.45" fill="#ff0000" stroke="#ff0000" stroke-width="0.7"/>
<circle cx="368.1" cy="646.5" r="3.45" fill="#ff0000" stroke="#ff0000" stroke-width="0.7"/>
<circle cx="377.7" cy="740.4" r="3.45" fill="#ff0000" stroke="#ff0000" stroke-width="0.7"/>
<circle cx="387.3" cy="672.0" r="3.45" fill="#ff0000" stroke="#ff0000" stroke-width="0.7"/>
<circle cx="397.0" cy="672.0" r="3.45" fill="#ff0000" stroke="#ff0000" stroke-width="0.7"/>
<circle cx="406.6" cy="719.1" r="3.45" fill="#ff0000" stroke="#ff0000" stroke-width="0.7"/>
<circle cx="416.2" cy="653.6" r="3.45" fill="#ff0000" stroke="#ff0000" stroke-width="0.7"/>
<circle cx="425.9" cy="670.6" r="3.45" fill="#ff0000" stroke="#ff0000" stroke-width="0.7"/>
<circle cx="435.5" cy="684.7" r="3.45" fill="#ff0000" stroke="#ff0000" stroke-width="0.7"/>
<circle cx="445.1" cy="623.8" r="3.45" fill="#ff0000" stroke="#ff0000" stroke-width="0.7"/>
<circle cx="454.8" cy="680.5" r="3.45" fill="#ff0000" stroke="#ff0000" stroke-width="0.7"/>
<circle cx="464.4" cy="696.0" r="3.45" fill="#ff0000" stroke="#ff0000" stroke-width="0.7"/>
<circle cx="474.0" cy="701.5" r="3.45" fill="#ff0000" stroke="#ff0000" stroke-width="0.7"/>
<circle cx="483.7" cy="598.3" r="3.45" fill="#ff0000" stroke="#ff0000" stroke-width="0.7"/>
<circle cx="493.3" cy="595.4" r="3.45" fill="#ff0000" stroke="#ff0000" stroke-width="0.7"/>
<circle cx="502.9" cy="592.6" r="3.45" fill="#ff0000" stroke="#ff0000" stroke-width="0.7"/>
<circle cx="512.6" cy="573.0" r="3.45" fill="#ff0000" stroke="#ff0000" stroke-width="0.7"/>
<circle cx="522.2" cy="636.5" r="3.45" fill="#ff0000" stroke="#ff0000" stroke-width="0.7"/>
<circle cx="531.8" cy="702.3" r="3.45" fill="#ff0000" stroke="#ff0000" stroke-width="0.7"/>
<circle cx="541.5" cy="644.3" r="3.45" fill="#ff0000" stroke="#ff0000" stroke-width="0.7"/>
<circle cx="551.1" cy="623.0" r="3.45" fill="#ff0000" stroke="#ff0000" stroke-width="0.7"/>
<circle cx="560.7" cy="599.6" r="3.45" fill="#ff0000" stroke="#ff0000" stroke-width="0.7"/>
<circle cx="570.4" cy="527.5" r="3.45" fill="#ff0000" stroke="#ff0000" stroke-width="0.7"/>
<circle cx="580.0" cy="544.0" r="3.45" fill="#ff0000" stroke="#ff0000" stroke-width="0.7"/>
<circle cx="589.6" cy="679.0" r="3.45" fill="#ff0000" stroke="#ff0000" stroke-width="0.7"/>
<circle cx="599.3" cy="662.0" r="3.45" fill="#ff0000" stroke="#ff0000" stroke-width="0.7"/>
<circle cx="608.9" cy="623.7" r="3.45" fill="#ff0000" stroke="#ff0000" stroke-width="0.7"/>
<circle cx="618.5" cy="581.9" r="3.45" fill="#ff0000" stroke="#ff0000" stroke-width="0.7"/>
<circle cx="628.2" cy="609.5" r="3.45" fill="#ff0000" stroke="#ff0000" stroke-width="0.7"/>
<circle cx="637.8" cy="613.8" r="3.45" fill="#ff0000" stroke="#ff0000" stroke-width="0.7"/>
<circle cx="647.4" cy="589.7" r="3.45" fill="#ff0000" stroke="#ff0000" stroke-width="0.7"/>
<circle cx="657.1" cy="606.7" r="3.45" fill="#ff0000" stroke="#ff0000" stroke-width="0.7"/>
<circle cx="666.7" cy="635.0" r="3.45" fill="#ff0000" stroke="#ff0000" stroke-width="0.7"/>
<circle cx="676.3" cy="656.3" r="3.45" fill="#ff0000" stroke="#ff0000" stroke-width="0.7"/>
<circle cx="686.0" cy="672.6" r="3.45" fill="#ff0000" stroke="#ff0000" stroke-width="0.7"/>
<circle cx="695.6" cy="635.0" r="3.45" fill="#ff0000" stroke="#ff0000" stroke-width="0.7"/>
<circle cx="705.2" cy="637.9" r="3.45" fill="#ff0000" stroke="#ff0000" stroke-width="0.7"/>
<circle cx="714.9" cy="663.4" r="3.45" fill="#ff0000" stroke="#ff0000" stroke-width="0.7"/>
<circle cx="724.5" cy="572.0" r="3.45" fill="#ff0000" stroke="#ff0000" stroke-width="0.7"/>
<circle cx="734.1" cy="582.2" r="3.45" fill="#ff0000" stroke="#ff0000" stroke-width="0.7"/>
<circle cx="743.8" cy="648.0" r="3.45" fill="#ff0000" stroke="#ff0000" stroke-width="0.7"/>
<circle cx="753.4" cy="612.7" r="3.45" fill="#ff0000" stroke="#ff0000" stroke-width="0.7"/>
<circle cx="763.0" cy="620.5" r="3.45" fill="#ff0000" stroke="#ff0000" stroke-width="0.7"/>
<circle cx="772.7" cy="558.8" r="3.45" fill="#ff0000" stroke="#ff0000" stroke-width="0.7"/>
<circle cx="782.3" cy="617.0" r="3.45" fill="#ff0000" stroke="#ff0000" stroke-width="0.7"/>
<circle cx="791.9" cy="587.9" r="3.45" fill="#ff0000" stroke="#ff0000" stroke-width="0.7"/>
<circle cx="801.6" cy="558.8" r="3.45" fill="#ff0000" stroke="#ff0000" stroke-width="0.7"/>
<circle cx="811.2" cy="611.3" r="3.45" fill="#ff0000" stroke="#ff0000" stroke-width="0.7"/>
<circle cx="820.8" cy="577.3" r="3.45" fill="#ff0000" stroke="#ff0000" stroke-width="0.7"/>
<circle cx="830.5" cy="633.2" r="3.45" fill="#ff0000" stroke="#ff0000" stroke-width="0.7"/>
<circle cx="840.1" cy="585.8" r="3.45" fill="#ff0000" stroke="#ff0000" stroke-width="0.7"/>
<circle cx="849.7" cy="638.2" r="3.45" fill="#ff0000" stroke="#ff0000" stroke-width="0.7"/>
<circle cx="859.4" cy="574.4" r="3.45" fill="#ff0000" stroke="#ff0000" stroke-width="0.7"/>
<circle cx="869.0" cy="507.1" r="3.45" fill="#ff0000" stroke="#ff0000" stroke-width="0.7"/>
<circle cx="878.6" cy="507.1" r="3.45" fill="#ff0000" stroke="#ff0000" stroke-width="0.7"/>
<circle cx="888.3" cy="561.0" r="3.45" fill="#ff0000" stroke="#ff0000" stroke-width="0.7"/>
<circle cx="897.9" cy="604.2" r="3.45" fill="#ff0000" stroke="#ff0000" stroke-width="0.7"/>
<circle cx="907.5" cy="619.1" r="3.45" fill="#ff0000" stroke="#ff0000" stroke-width="0.7"/>
<circle cx="917.2" cy="529.0" r="3.45" fill="#ff0000" stroke="#ff0000" stroke-width="0.7"/>
<circle cx="926.8" cy="540.4" r="3.45" fill="#ff0000" stroke="#ff0000" stroke-width="0.7"/>
<circle cx="936.4" cy="503.5" r="3.45" fill="#ff0000" stroke="#ff0000" stroke-width="0.7"/>
<circle cx="946.1" cy="479.2" r="3.45" fill="#ff0000" stroke="#ff0000" stroke-width="0.7"/>
<circle cx="955.7" cy="536.9" r="3.45" fill="#ff0000" stroke="#ff0000" stroke-width="0.7"/>
<circle cx="965.3" cy="562.4" r="3.45" fill="#ff0000" stroke="#ff0000" stroke-width="0.7"/>
<circle cx="975.0" cy="565.2" r="3.45" fill="#ff0000" stroke="#ff0000" stroke-width="0.7"/>
<circle cx="984.6" cy="515.2" r="3.45" fill="#ff0000" stroke="#ff0000" stroke-width="0.7"/>
<circle cx="994.2" cy="569.5" r="3.45" fill="#ff0000" stroke="#ff0000" stroke-width="0.7"/>
<circle cx="1003.9" cy="505.0" r="3.45" fill="#ff0000" stroke="#ff0000" stroke-width="0.7"/>
<circle cx="1013.5" cy="432.5" r="3.45" fill="#ff0000" stroke="#ff0000" stroke-width="0.7"/>
<circle cx="1023.1" cy="474.9" r="3.45" fill="#ff0000" stroke="#ff0000" stroke-width="0.7"/>
<circle cx="1032.8" cy="465.7" r="3.45" fill="#ff0000" stroke="#ff0000" stroke-width="0.7"/>
<circle cx="1042.4" cy="472.3" r="3.45" fill="#ff0000" stroke="#ff0000" stroke-width="0.7"/>
<circle cx="1052.0" cy="541.1" r="3.45" fill="#ff0000" stroke="#ff0000" stroke-width="0.7"/>
<circle cx="1061.7" cy="528.3" r="3.45" fill="#ff0000" stroke="#ff0000" stroke-width="0.7"/>
<circle cx="1071.3" cy="484.9" r="3.45" fill="#ff0000" stroke="#ff0000" stroke-width="0.7"/>
<circle cx="1080.9" cy="433.9" r="3.45" fill="#ff0000" stroke="#ff0000" stroke-width="0.7"/>
<circle cx="1090.6" cy="377.5" r="3.45" fill="#ff0000" stroke="#ff0000" stroke-width="0.7"/>
<circle cx="1100.2" cy="445.2" r="3.45" fill="#ff0000" stroke="#ff0000" stroke-width="0.7"/>
<circle cx="1109.8" cy="471.0" r="3.45" fill="#ff0000" stroke="#ff0000" stroke-width="0.7"/>
<circle cx="1119.5" cy="455.4" r="3.45" fill="#ff0000" stroke="#ff0000" stroke-width="0.7"/>
<circle cx="1129.1" cy="462.5" r="3.45" fill="#ff0000" stroke="#ff0000" stroke-width="0.7"/>
<circle cx="1138.7" cy="437.0" r="3.45" fill="#ff0000" stroke="#ff0000" stroke-width="0.7"/>
<circle cx="1148.4" cy="456.9" r="3.45" fill="#ff0000" stroke="#ff0000" stroke-width="0.7"/>
<circle cx="1158.0" cy="402.0" r="3.45" fill="#ff0000" stroke="#ff0000" stroke-width="0.7"/>
<circle cx="1167.6" cy="279.1" r="3.45" fill="#ff0000" stroke="#ff0000" stroke-width="0.7"/>
<circle cx="1177.3" cy="351.0" r="3.45" fill="#ff0000" stroke="#ff0000" stroke-width="0.7"/>
<circle cx="1186.9" cy="250.0" r="3.45" fill="#ff0000" stroke="#ff0000" stroke-width="0.7"/>
<circle cx="1196.5" cy="184.1" r="3.45" fill="#ff0000" stroke="#ff0000" stroke-width="0.7"/>
<circle cx="1206.2" cy="174.9" r="3.45" fill="#ff0000" stroke="#ff0000" stroke-width="0.7"/>
<circle cx="1215.8" cy="296.6" r="3.45" fill="#ff0000" stroke="#ff0000" stroke-width="0.7"/>
<circle cx="1225.4" cy="429.4" r="3.45" fill="#ff0000" stroke="#ff0000" stroke-width="0.7"/>
<circle cx="1235.1" cy="488.0" r="3.45" fill="#ff0000" stroke="#ff0000" stroke-width="0.7"/>
<circle cx="1244.7" cy="337.5" r="3.45" fill="#ff0000" stroke="#ff0000" stroke-width="0.7"/>
<circle cx="1254.3" cy="227.3" r="3.45" fill="#ff0000" stroke="#ff0000" stroke-width="0.7"/>
<circle cx="1264.0" cy="190.5" r="3.45" fill="#ff0000" stroke="#ff0000" stroke-width="0.7"/>
<circle cx="1273.6" cy="207.5" r="3.45" fill="#ff0000" stroke="#ff0000" stroke-width="0.7"/>
<circle cx="1283.2" cy="194.7" r="3.45" fill="#ff0000" stroke="#ff0000" stroke-width="0.7"/>
<circle cx="1292.9" cy="199.7" r="3.45" fill="#ff0000" stroke="#ff0000" stroke-width="0.7"/>
<circle cx="1302.5" cy="155.4" r="3.45" fill="#ff0000" stroke="#ff0000" stroke-width="0.7"/>
</g>
<g clip-path="url(#ax)">
<polyline points="146.5,621.0 156.1,675.4 165.8,624.8 175.4,629.6 185.0,649.9 194.7,689.4 204.3,660.0 213.9,670.6 223.6,625.8 233.2,647.0 242.8,630.5 252.5,659.2 262.1,617.4 271.7,608.5 281.4,639.8 291.0,601.4 300.6,601.5 310.3,633.8 319.9,562.8 329.5,587.0 339.2,605.4 348.8,644.3 358.4,626.6 368.1,657.8 377.7,643.6 387.3,611.7 397.0,603.2 406.6,577.0 416.2,577.0 425.9,623.1 435.5,635.8 445.1,577.0 454.8,580.6 464.4,622.4 474.0,660.6 483.7,632.3 493.3,604.0 502.9,587.0 512.6,534.9 522.2,571.0 531.8,553.3 541.5,539.9 551.1,571.0 560.7,616.6 570.4,627.3 580.0,547.3 589.6,577.6 599.3,572.5 608.9,587.5 618.5,546.2 628.2,555.2 637.8,564.5 647.4,554.5 657.1,526.4 666.7,564.2 676.3,582.6 686.0,569.8 695.6,533.5 705.2,578.3 714.9,584.0 724.5,564.2 734.1,528.3 743.8,509.2 753.4,513.5 763.0,542.5 772.7,534.7 782.3,505.8 791.9,477.6 801.6,483.0 811.2,494.0 820.8,445.0 830.5,507.0 840.1,518.4 849.7,525.5 859.4,494.4 869.0,475.5 878.6,453.8 888.3,433.7 897.9,479.3 907.5,422.0 917.2,376.3 926.8,411.9 936.4,460.8 946.1,408.3 955.7,369.0 965.3,386.0 975.0,381.7 984.6,375.4 994.2,392.8 1003.9,362.6 1013.5,374.0 1023.1,323.6 1032.8,288.9 1042.4,258.4 1052.0,331.4 1061.7,335.7 1071.3,355.5 1080.9,315.1 1090.6,283.9 1100.2,323.6 1109.8,278.3 1119.5,266.3 1129.1,289.7 1138.7,252.1 1148.4,219.5 1158.0,269.9 1167.6,362.3 1177.3,343.9 1186.9,150.4 1196.5,154.7 1206.2,161.8 1215.8,105.8 1225.4,148.3 1235.1,241.5 1244.7,84.5 1254.3,71.8 1264.0,248.6 1273.6,245.8 1283.2,94.5 1292.9,46.3 1302.5,37.5" fill="none" stroke="#008000" stroke-width="3.8" stroke-linejoin="round"/>
<circle cx="146.5" cy="621.0" r="3.45" fill="#008000" stroke="#008000" stroke-width="0.7"/>
<circle cx="156.1" cy="675.4" r="3.45" fill="#008000" stroke="#008000" stroke-width="0.7"/>
<circle cx="165.8" cy="624.8" r="3.45" fill="#008000" stroke="#008000" stroke-width="0.7"/>
<circle cx="175.4" cy="629.6" r="3.45" fill="#008000" stroke="#008000" stroke-width="0.7"/>
<circle cx="185.0" cy="649.9" r="3.45" fill="#008000" stroke="#008000" stroke-width="0.7"/>
<circle cx="194.7" cy="689.4" r="3.45" fill="#008000" stroke="#008000" stroke-width="0.7"/>
<circle cx="204.3" cy="660.0" r="3.45" fill="#008000" stroke="#008000" stroke-width="0.7"/>
<circle cx="213.9" cy="670.6" r="3.45" fill="#008000" stroke="#008000" stroke-width="0.7"/>
<circle cx="223.6" cy="625.8" r="3.45" fill="#008000" stroke="#008000" stroke-width="0.7"/>
<circle cx="233.2" cy="647.0" r="3.45" fill="#008000" stroke="#008000" stroke-width="0.7"/>
<circle cx="242.8" cy="630.5" r="3.45" fill="#008000" stroke="#008000" stroke-width="0.7"/>
<circle cx="252.5" cy="659.2" r="3.45" fill="#008000" stroke="#008000" stroke-width="0.7"/>
<circle cx="262.1" cy="617.4" r="3.45" fill="#008000" stroke="#008000" stroke-width="0.7"/>
<circle cx="271.7" cy="608.5" r="3.45" fill="#008000" stroke="#008000" stroke-width="0.7"/>
<circle cx="281.4" cy="639.8" r="3.45" fill="#008000" stroke="#008000" stroke-width="0.7"/>
<circle cx="291.0" cy="601.4" r="3.45" fill="#008000" stroke="#008000" stroke-width="0.7"/>
<circle cx="300.6" cy="601.5" r="3.45" fill="#008000" stroke="#008000" stroke-width="0.7"/>
<circle cx="310.3" cy="633.8" r="3.45" fill="#008000" stroke="#008000" stroke-width="0.7"/>
<circle cx="319.9" cy="562.8" r="3.45" fill="#008000" stroke="#008000" stroke-width="0.7"/>
<circle cx="329.5" cy="587.0" r="3.45" fill="#008000" stroke="#008000" stroke-width="0.7"/>
<circle cx="339.2" cy="605.4" r="3.45" fill="#008000" stroke="#008000" stroke-width="0.7"/>
<circle cx="348.8" cy="644.3" r="3.45" fill="#008000" stroke="#008000" stroke-width="0.7"/>
<circle cx="358.4" cy="626.6" r="3.45" fill="#008000" stroke="#008000" stroke-width="0.7"/>
<circle cx="368.1" cy="657.8" r="3.45" fill="#008000" stroke="#008000" stroke-width="0.7"/>
<circle cx="377.7" cy="643.6" r="3.45" fill="#008000" stroke="#008000" stroke-width="0.7"/>
<circle cx="387.3" cy="611.7" r="3.45" fill="#008000" stroke="#008000" stroke-width="0.7"/>
<circle cx="397.0" cy="603.2" r="3.45" fill="#008000" stroke="#008000" stroke-width="0.7"/>
<circle cx="406.6" cy="577.0" r="3.45" fill="#008000" stroke="#008000" stroke-width="0.7"/>
<circle cx="416.2" cy="577.0" r="3.45" fill="#008000" stroke="#008000" stroke-width="0.7"/>
<circle cx="425.9" cy="623.1" r="3.45" fill="#008000" stroke="#008000" stroke-width="0.7"/>
<circle cx="435.5" cy="635.8" r="3.45" fill="#008000" stroke="#008000" stroke-width="0.7"/>
<circle cx="445.1" cy="577.0" r="3.45" fill="#008000" stroke="#008000" stroke-width="0.7"/>
<circle cx="454.8" cy="580.6" r="3.45" fill="#008000" stroke="#008000" stroke-width="0.7"/>
<circle cx="464.4" cy="622.4" r="3.45" fill="#008000" stroke="#008000" stroke-width="0.7"/>
<circle cx="474.0" cy="660.6" r="3.45" fill="#008000" stroke="#008000" stroke-width="0.7"/>
<circle cx="483.7" cy="632.3" r="3.45" fill="#008000" stroke="#008000" stroke-width="0.7"/>
<circle cx="493.3" cy="604.0" r="3.45" fill="#008000" stroke="#008000" stroke-width="0.7"/>
<circle cx="502.9" cy="587.0" r="3.45" fill="#008000" stroke="#008000" stroke-width="0.7"/>
<circle cx="512.6" cy="534.9" r="3.45" fill="#008000" stroke="#008000" stroke-width="0.7"/>
<circle cx="522.2" cy="571.0" r="3.45" fill="#008000" stroke="#008000" stroke-width="0.7"/>
<circle cx="531.8" cy="553.3" r="3.45" fill="#008000" stroke="#008000" stroke-width="0.7"/>
<circle cx="541.5" cy="539.9" r="3.45" fill="#008000" stroke="#008000" stroke-width="0.7"/>
<circle cx="551.1" cy="571.0" r="3.45" fill="#008000" stroke="#008000" stroke-width="0.7"/>
<circle cx="560.7" cy="616.6" r="3.45" fill="#008000" stroke="#008000" stroke-width="0.7"/>
<circle cx="570.4" cy="627.3" r="3.45" fill="#008000" stroke="#008000" stroke-width="0.7"/>
<circle cx="580.0" cy="547.3" r="3.45" fill="#008000" stroke="#008000" stroke-width="0.7"/>
<circle cx="589.6" cy="577.6" r="3.45" fill="#008000" stroke="#008000" stroke-width="0.7"/>
<circle cx="599.3" cy="572.5" r="3.45" fill="#008000" stroke="#008000" stroke-width="0.7"/>
<circle cx="608.9" cy="587.5" r="3.45" fill="#008000" stroke="#008000" stroke-width="0.7"/>
<circle cx="618.5" cy="546.2" r="3.45" fill="#008000" stroke="#008000" stroke-width="0.7"/>
<circle cx="628.2" cy="555.2" r="3.45" fill="#008000" stroke="#008000" stroke-width="0.7"/>
<circle cx="637.8" cy="564.5" r="3.45" fill="#008000" stroke="#008000" stroke-width="0.7"/>
<circle cx="647.4" cy="554.5" r="3.45" fill="#008000" stroke="#008000" stroke-width="0.7"/>
<circle cx="657.1" cy="526.4" r="3.45" fill="#008000" stroke="#008000" stroke-width="0.7"/>
<circle cx="666.7" cy="564.2" r="3.45" fill="#008000" stroke="#008000" stroke-width="0.7"/>
<circle cx="676.3" cy="582.6" r="3.45" fill="#008000" stroke="#008000" stroke-width="0.7"/>
<circle cx="686.0" cy="569.8" r="3.45" fill="#008000" stroke="#008000" stroke-width="0.7"/>
<circle cx="695.6" cy="533.5" r="3.45" fill="#008000" stroke="#008000" stroke-width="0.7"/>
<circle cx="705.2" cy="578.3" r="3.45" fill="#008000" stroke="#008000" stroke-width="0.7"/>
<circle cx="714.9" cy="584.0" r="3.45" fill="#008000" stroke="#008000" stroke-width="0.7"/>
<circle cx="724.5" cy="564.2" r="3.45" fill="#008000" stroke="#008000" stroke-width="0.7"/>
<circle cx="734.1" cy="528.3" r="3.45" fill="#008000" stroke="#008000" stroke-width="0.7"/>
<circle cx="743.8" cy="509.2" r="3.45" fill="#008000" stroke="#008000" stroke-width="0.7"/>
<circle cx="753.4" cy="513.5" r="3.45" fill="#008000" stroke="#008000" stroke-width="0.7"/>
<circle cx="763.0" cy="542.5" r="3.45" fill="#008000" stroke="#008000" stroke-width="0.7"/>
<circle cx="772.7" cy="534.7" r="3.45" fill="#008000" stroke="#008000" stroke-width="0.7"/>
<circle cx="782.3" cy="505.8" r="3.45" fill="#008000" stroke="#008000" stroke-width="0.7"/>
<circle cx="791.9" cy="477.6" r="3.45" fill="#008000" stroke="#008000" stroke-width="0.7"/>
<circle cx="801.6" cy="483.0" r="3.45" fill="#008000" stroke="#008000" stroke-width="0.7"/>
<circle cx="811.2" cy="494.0" r="3.45" fill="#008000" stroke="#008000" stroke-width="0.7"/>
<circle cx="820.8" cy="445.0" r="3.45" fill="#008000" stroke="#008000" stroke-width="0.7"/>
<circle cx="830.5" cy="507.0" r="3.45" fill="#008000" stroke="#008000" stroke-width="0.7"/>
<circle cx="840.1" cy="518.4" r="3.45" fill="#008000" stroke="#008000" stroke-width="0.7"/>
<circle cx="849.7" cy="525.5" r="3.45" fill="#008000" stroke="#008000" stroke-width="0.7"/>
<circle cx="859.4" cy="494.4" r="3.45" fill="#008000" stroke="#008000" stroke-width="0.7"/>
<circle cx="869.0" cy="475.5" r="3.45" fill="#008000" stroke="#008000" stroke-width="0.7"/>
<circle cx="878.6" cy="453.8" r="3.45" fill="#008000" stroke="#008000" stroke-width="0.7"/>
<circle cx="888.3" cy="433.7" r="3.45" fill="#008000" stroke="#008000" stroke-width="0.7"/>
<circle cx="897.9" cy="479.3" r="3.45" fill="#008000" stroke="#008000" stroke-width="0.7"/>
<circle cx="907.5" cy="422.0" r="3.45" fill="#008000" stroke="#008000" stroke-width="0.7"/>
<circle cx="917.2" cy="376.3" r="3.45" fill="#008000" stroke="#008000" stroke-width="0.7"/>
<circle cx="926.8" cy="411.9" r="3.45" fill="#008000" stroke="#008000" stroke-width="0.7"/>
<circle cx="936.4" cy="460.8" r="3.45" fill="#008000" stroke="#008000" stroke-width="0.7"/>
<circle cx="946.1" cy="408.3" r="3.45" fill="#008000" stroke="#008000" stroke-width="0.7"/>
<circle cx="955.7" cy="369.0" r="3.45" fill="#008000" stroke="#008000" stroke-width="0.7"/>
<circle cx="965.3" cy="386.0" r="3.45" fill="#008000" stroke="#008000" stroke-width="0.7"/>
<circle cx="975.0" cy="381.7" r="3.45" fill="#008000" stroke="#008000" stroke-width="0.7"/>
<circle cx="984.6" cy="375.4" r="3.45" fill="#008000" stroke="#008000" stroke-width="0.7"/>
<circle cx="994.2" cy="392.8" r="3.45" fill="#008000" stroke="#008000" stroke-width="0.7"/>
<circle cx="1003.9" cy="362.6" r="3.45" fill="#008000" stroke="#008000" stroke-width="0.7"/>
<circle cx="1013.5" cy="374.0" r="3.45" fill="#008000" stroke="#008000" stroke-width="0.7"/>
<circle cx="1023.1" cy="323.6" r="3.45" fill="#008000" stroke="#008000" stroke-width="0.7"/>
<circle cx="1032.8" cy="288.9" r="3.45" fill="#008000" stroke="#008000" stroke-width="0.7"/>
<circle cx="1042.4" cy="258.4" r="3.45" fill="#008000" stroke="#008000" stroke-width="0.7"/>
<circle cx="1052.0" cy="331.4" r="3.45" fill="#008000" stroke="#008000" stroke-width="0.7"/>
<circle cx="1061.7" cy="335.7" r="3.45" fill="#008000" stroke="#008000" stroke-width="0.7"/>
<circle cx="1071.3" cy="355.5" r="3.45" fill="#008000" stroke="#008000" stroke-width="0.7"/>
<circle cx="1080.9" cy="315.1" r="3.45" fill="#008000" stroke="#008000" stroke-width="0.7"/>
<circle cx="1090.6" cy="283.9" r="3.45" fill="#008000" stroke="#008000" stroke-width="0.7"/>
<circle cx="1100.2" cy="323.6" r="3.45" fill="#008000" stroke="#008000" stroke-width="0.7"/>
<circle cx="1109.8" cy="278.3" r="3.45" fill="#008000" stroke="#008000" stroke-width="0.7"/>
<circle cx="1119.5" cy="266.3" r="3.45" fill="#008000" stroke="#008000" stroke-width="0.7"/>
<circle cx="1129.1" cy="289.7" r="3.45" fill="#008000" stroke="#008000" stroke-width="0.7"/>
<circle cx="1138.7" cy="252.1" r="3.45" fill="#008000" stroke="#008000" stroke-width="0.7"/>
<circle cx="1148.4" cy="219.5" r="3.45" fill="#008000" stroke="#008000" stroke-width="0.7"/>
<circle cx="1158.0" cy="269.9" r="3.45" fill="#008000" stroke="#008000" stroke-width="0.7"/>
<circle cx="1167.6" cy="362.3" r="3.45" fill="#008000" stroke="#008000" stroke-width="0.7"/>
<circle cx="1177.3" cy="343.9" r="3.45" fill="#008000" stroke="#008000" stroke-width="0.7"/>
<circle cx="1186.9" cy="150.4" r="3.45" fill="#008000" stroke="#008000" stroke-width="0.7"/>
<circle cx="1196.5" cy="154.7" r="3.45" fill="#008000" stroke="#008000" stroke-width="0.7"/>
<circle cx="1206.2" cy="161.8" r="3.45" fill="#008000" stroke="#008000" stroke-width="0.7"/>
<circle cx="1215.8" cy="105.8" r="3.45" fill="#008000" stroke="#008000" stroke-width="0.7"/>
<circle cx="1225.4" cy="148.3" r="3.45" fill="#008000" stroke="#008000" stroke-width="0.7"/>
<circle cx="1235.1" cy="241.5" r="3.45" fill="#008000" stroke="#008000" stroke-width="0.7"/>
<circle cx="1244.7" cy="84.5" r="3.45" fill="#008000" stroke="#008000" stroke-width="0.7"/>
<circle cx="1254.3" cy="71.8" r="3.45" fill="#008000" stroke="#008000" stroke-width="0.7"/>
<circle cx="1264.0" cy="248.6" r="3.45" fill="#008000" stroke="#008000" stroke-width="0.7"/>
<circle cx="1273.6" cy="245.8" r="3.45" fill="#008000" stroke="#008000" stroke-width="0.7"/>
<circle cx="1283.2" cy="94.5" r="3.45" fill="#008000" stroke="#008000" stroke-width="0.7"/>
<circle cx="1292.9" cy="46.3" r="3.45" fill="#008000" stroke="#008000" stroke-width="0.7"/>
<circle cx="1302.5" cy="37.5" r="3.45" fill="#008000" stroke="#008000" stroke-width="0.7"/>
</g>
<g clip-path="url(#ax)">
<polyline points="146.5,698.4 156.1,695.6 165.8,587.0 175.4,714.0 185.0,657.0 194.7,796.2 204.3,830.0 213.9,772.8 223.6,693.5 233.2,798.4 242.8,705.5 252.5,645.3 262.1,716.9 271.7,840.0 281.4,729.0 291.0,749.5 300.6,615.4 310.3,519.7 319.9,748.0 329.5,780.0 339.2,718.4 348.8,571.5 358.4,623.1 368.1,569.1 377.7,844.6 387.3,667.0 397.0,570.8 406.6,866.0 416.2,655.0 425.9,563.8 435.5,739.7 445.1,637.3 454.8,630.2 464.4,590.5 474.0,734.7 483.7,452.7 493.3,601.0 502.9,589.0 512.6,699.6 522.2,715.6 531.8,669.0 541.5,571.3 551.1,581.9 560.7,486.0 570.4,444.2 580.0,600.6 589.6,609.5 599.3,661.3 608.9,748.0 618.5,615.2 628.2,635.0 637.8,600.3 647.4,574.1 657.1,574.8 666.7,591.8 676.3,679.0 686.0,505.1 695.6,511.5 705.2,606.7 714.9,756.5 724.5,551.5 734.1,516.3 743.8,657.0 753.4,516.3 763.0,795.3 772.7,627.6 782.3,646.3 791.9,663.3 801.6,637.6 811.2,703.7 820.8,604.2 830.5,609.1 840.1,628.3 849.7,629.7 859.4,712.2 869.0,573.7 878.6,643.3 888.3,615.5 897.9,558.1 907.5,654.8 917.2,573.7 926.8,589.3 936.4,643.8 946.1,604.9 955.7,729.3 965.3,519.7 975.0,550.3 984.6,693.2 994.2,384.3 1003.9,484.1 1013.5,617.0 1023.1,619.8 1032.8,567.3 1042.4,508.0 1052.0,554.6 1061.7,548.2 1071.3,531.2 1080.9,508.0 1090.6,490.6 1100.2,527.0 1109.8,637.5 1119.5,457.6 1129.1,514.3 1138.7,228.0 1148.4,375.0 1158.0,385.0" fill="none" stroke="#cd853f" stroke-width="3.6" stroke-linejoin="round" stroke-dasharray="14.2 6.1"/>
<circle cx="146.5" cy="698.4" r="3.45" fill="#cd853f" stroke="#cd853f" stroke-width="0.7"/>
<circle cx="156.1" cy="695.6" r="3.45" fill="#cd853f" stroke="#cd853f" stroke-width="0.7"/>
<circle cx="165.8" cy="587.0" r="3.45" fill="#cd853f" stroke="#cd853f" stroke-width="0.7"/>
<circle cx="175.4" cy="714.0" r="3.45" fill="#cd853f" stroke="#cd853f" stroke-width="0.7"/>
<circle cx="185.0" cy="657.0" r="3.45" fill="#cd853f" stroke="#cd853f" stroke-width="0.7"/>
<circle cx="194.7" cy="796.2" r="3.45" fill="#cd853f" stroke="#cd853f" stroke-width="0.7"/>
<circle cx="204.3" cy="830.0" r="3.45" fill="#cd853f" stroke="#cd853f" stroke-width="0.7"/>
<circle cx="213.9" cy="772.8" r="3.45" fill="#cd853f" stroke="#cd853f" stroke-width="0.7"/>
<circle cx="223.6" cy="693.5" r="3.45" fill="#cd853f" stroke="#cd853f" stroke-width="0.7"/>
<circle cx="233.2" cy="798.4" r="3.45" fill="#cd853f" stroke="#cd853f" stroke-width="0.7"/>
<circle cx="242.8" cy="705.5" r="3.45" fill="#cd853f" stroke="#cd853f" stroke-width="0.7"/>
<circle cx="252.5" cy="645.3" r="3.45" fill="#cd853f" stroke="#cd853f" stroke-width="0.7"/>
<circle cx="262.1" cy="716.9" r="3.45" fill="#cd853f" stroke="#cd853f" stroke-width="0.7"/>
<circle cx="271.7" cy="840.0" r="3.45" fill="#cd853f" stroke="#cd853f" stroke-width="0.7"/>
<circle cx="281.4" cy="729.0" r="3.45" fill="#cd853f" stroke="#cd853f" stroke-width="0.7"/>
<circle cx="291.0" cy="749.5" r="3.45" fill="#cd853f" stroke="#cd853f" stroke-width="0.7"/>
<circle cx="300.6" cy="615.4" r="3.45" fill="#cd853f" stroke="#cd853f" stroke-width="0.7"/>
<circle cx="310.3" cy="519.7" r="3.45" fill="#cd853f" stroke="#cd853f" stroke-width="0.7"/>
<circle cx="319.9" cy="748.0" r="3.45" fill="#cd853f" stroke="#cd853f" stroke-width="0.7"/>
<circle cx="329.5" cy="780.0" r="3.45" fill="#cd853f" stroke="#cd853f" stroke-width="0.7"/>
<circle cx="339.2" cy="718.4" r="3.45" fill="#cd853f" stroke="#cd853f" stroke-width="0.7"/>
<circle cx="348.8" cy="571.5" r="3.45" fill="#cd853f" stroke="#cd853f" stroke-width="0.7"/>
<circle cx="358.4" cy="623.1" r="3.45" fill="#cd853f" stroke="#cd853f" stroke-width="0.7"/>
<circle cx="368.1" cy="569.1" r="3.45" fill="#cd853f" stroke="#cd853f" stroke-width="0.7"/>
<circle cx="377.7" cy="844.6" r="3.45" fill="#cd853f" stroke="#cd853f" stroke-width="0.7"/>
<circle cx="387.3" cy="667.0" r="3.45" fill="#cd853f" stroke="#cd853f" stroke-width="0.7"/>
<circle cx="397.0" cy="570.8" r="3.45" fill="#cd853f" stroke="#cd853f" stroke-width="0.7"/>
<circle cx="406.6" cy="866.0" r="3.45" fill="#cd853f" stroke="#cd853f" stroke-width="0.7"/>
<circle cx="416.2" cy="655.0" r="3.45" fill="#cd853f" stroke="#cd853f" stroke-width="0.7"/>
<circle cx="425.9" cy="563.8" r="3.45" fill="#cd853f" stroke="#cd853f" stroke-width="0.7"/>
<circle cx="435.5" cy="739.7" r="3.45" fill="#cd853f" stroke="#cd853f" stroke-width="0.7"/>
<circle cx="445.1" cy="637.3" r="3.45" fill="#cd853f" stroke="#cd853f" stroke-width="0.7"/>
<circle cx="454.8" cy="630.2" r="3.45" fill="#cd853f" stroke="#cd853f" stroke-width="0.7"/>
<circle cx="464.4" cy="590.5" r="3.45" fill="#cd853f" stroke="#cd853f" stroke-width="0.7"/>
<circle cx="474.0" cy="734.7" r="3.45" fill="#cd853f" stroke="#cd853f" stroke-width="0.7"/>
<circle cx="483.7" cy="452.7" r="3.45" fill="#cd853f" stroke="#cd853f" stroke-width="0.7"/>
<circle cx="493.3" cy="601.0" r="3.45" fill="#cd853f" stroke="#cd853f" stroke-width="0.7"/>
<circle cx="502.9" cy="589.0" r="3.45" fill="#cd853f" stroke="#cd853f" stroke-width="0.7"/>
<circle cx="512.6" cy="699.6" r="3.45" fill="#cd853f" stroke="#cd853f" stroke-width="0.7"/>
<circle cx="522.2" cy="715.6" r="3.45" fill="#cd853f" stroke="#cd853f" stroke-width="0.7"/>
<circle cx="531.8" cy="669.0" r="3.45" fill="#cd853f" stroke="#cd853f" stroke-width="0.7"/>
<circle cx="541.5" cy="571.3" r="3.45" fill="#cd853f" stroke="#cd853f" stroke-width="0.7"/>
<circle cx="551.1" cy="581.9" r="3.45" fill="#cd853f" stroke="#cd853f" stroke-width="0.7"/>
<circle cx="560.7" cy="486.0" r="3.45" fill="#cd853f" stroke="#cd853f" stroke-width="0.7"/>
<circle cx="570.4" cy="444.2" r="3.45" fill="#cd853f" stroke="#cd853f" stroke-width="0.7"/>
<circle cx="580.0" cy="600.6" r="3.45" fill="#cd853f" stroke="#cd853f" stroke-width="0.7"/>
<circle cx="589.6" cy="609.5" r="3.45" fill="#cd853f" stroke="#cd853f" stroke-width="0.7"/>
<circle cx="599.3" cy="661.3" r="3.45" fill="#cd853f" stroke="#cd853f" stroke-width="0.7"/>
<circle cx="608.9" cy="748.0" r="3.45" fill="#cd853f" stroke="#cd853f" stroke-width="0.7"/>
<circle cx="618.5" cy="615.2" r="3.45" fill="#cd853f" stroke="#cd853f" stroke-width="0.7"/>
<circle cx="628.2" cy="635.0" r="3.45" fill="#cd853f" stroke="#cd853f" stroke-width="0.7"/>
<circle cx="637.8" cy="600.3" r="3.45" fill="#cd853f" stroke="#cd853f" stroke-width="0.7"/>
<circle cx="647.4" cy="574.1" r="3.45" fill="#cd853f" stroke="#cd853f" stroke-width="0.7"/>
<circle cx="657.1" cy="574.8" r="3.45" fill="#cd853f" stroke="#cd853f" stroke-width="0.7"/>
<circle cx="666.7" cy="591.8" r="3.45" fill="#cd853f" stroke="#cd853f" stroke-width="0.7"/>
<circle cx="676.3" cy="679.0" r="3.45" fill="#cd853f" stroke="#cd853f" stroke-width="0.7"/>
<circle cx="686.0" cy="505.1" r="3.45" fill="#cd853f" stroke="#cd853f" stroke-width="0.7"/>
<circle cx="695.6" cy="511.5" r="3.45" fill="#cd853f" stroke="#cd853f" stroke-width="0.7"/>
<circle cx="705.2" cy="606.7" r="3.45" fill="#cd853f" stroke="#cd853f" stroke-width="0.7"/>
<circle cx="714.9" cy="756.5" r="3.45" fill="#cd853f" stroke="#cd853f" stroke-width="0.7"/>
<circle cx="724.5" cy="551.5" r="3.45" fill="#cd853f" stroke="#cd853f" stroke-width="0.7"/>
<circle cx="734.1" cy="516.3" r="3.45" fill="#cd853f" stroke="#cd853f" stroke-width="0.7"/>
<circle cx="743.8" cy="657.0" r="3.45" fill="#cd853f" stroke="#cd853f" stroke-width="0.7"/>
<circle cx="753.4" cy="516.3" r="3.45" fill="#cd853f" stroke="#cd853f" stroke-width="0.7"/>
<circle cx="763.0" cy="795.3" r="3.45" fill="#cd853f" stroke="#cd853f" stroke-width="0.7"/>
<circle cx="772.7" cy="627.6" r="3.45" fill="#cd853f" stroke="#cd853f" stroke-width="0.7"/>
<circle cx="782.3" cy="646.3" r="3.45" fill="#cd853f" stroke="#cd853f" stroke-width="0.7"/>
<circle cx="791.9" cy="663.3" r="3.45" fill="#cd853f" stroke="#cd853f" stroke-width="0.7"/>
<circle cx="801.6" cy="637.6" r="3.45" fill="#cd853f" stroke="#cd853f" stroke-width="0.7"/>
<circle cx="811.2" cy="703.7" r="3.45" fill="#cd853f" stroke="#cd853f" stroke-width="0.7"/>
<circle cx="820.8" cy="604.2" r="3.45" fill="#cd853f" stroke="#cd853f" stroke-width="0.7"/>
<circle cx="830.5" cy="609.1" r="3.45" fill="#cd853f" stroke="#cd853f" stroke-width="0.7"/>
<circle cx="840.1" cy="628.3" r="3.45" fill="#cd853f" stroke="#cd853f" stroke-width="0.7"/>
<circle cx="849.7" cy="629.7" r="3.45" fill="#cd853f" stroke="#cd853f" stroke-width="0.7"/>
<circle cx="859.4" cy="712.2" r="3.45" fill="#cd853f" stroke="#cd853f" stroke-width="0.7"/>
<circle cx="869.0" cy="573.7" r="3.45" fill="#cd853f" stroke="#cd853f" stroke-width="0.7"/>
<circle cx="878.6" cy="643.3" r="3.45" fill="#cd853f" stroke="#cd853f" stroke-width="0.7"/>
<circle cx="888.3" cy="615.5" r="3.45" fill="#cd853f" stroke="#cd853f" stroke-width="0.7"/>
<circle cx="897.9" cy="558.1" r="3.45" fill="#cd853f" stroke="#cd853f" stroke-width="0.7"/>
<circle cx="907.5" cy="654.8" r="3.45" fill="#cd853f" stroke="#cd853f" stroke-width="0.7"/>
<circle cx="917.2" cy="573.7" r="3.45" fill="#cd853f" stroke="#cd853f" stroke-width="0.7"/>
<circle cx="926.8" cy="589.3" r="3.45" fill="#cd853f" stroke="#cd853f" stroke-width="0.7"/>
<circle cx="936.4" cy="643.8" r="3.45" fill="#cd853f" stroke="#cd853f" stroke-width="0.7"/>
<circle cx="946.1" cy="604.9" r="3.45" fill="#cd853f" stroke="#cd853f" stroke-width="0.7"/>
<circle cx="955.7" cy="729.3" r="3.45" fill="#cd853f" stroke="#cd853f" stroke-width="0.7"/>
<circle cx="965.3" cy="519.7" r="3.45" fill="#cd853f" stroke="#cd853f" stroke-width="0.7"/>
<circle cx="975.0" cy="550.3" r="3.45" fill="#cd853f" stroke="#cd853f" stroke-width="0.7"/>
<circle cx="984.6" cy="693.2" r="3.45" fill="#cd853f" stroke="#cd853f" stroke-width="0.7"/>
<circle cx="994.2" cy="384.3" r="3.45" fill="#cd853f" stroke="#cd853f" stroke-width="0.7"/>
<circle cx="1003.9" cy="484.1" r="3.45" fill="#cd853f" stroke="#cd853f" stroke-width="0.7"/>
<circle cx="1013.5" cy="617.0" r="3.45" fill="#cd853f" stroke="#cd853f" stroke-width="0.7"/>
<circle cx="1023.1" cy="619.8" r="3.45" fill="#cd853f" stroke="#cd853f" stroke-width="0.7"/>
<circle cx="1032.8" cy="567.3" r="3.45" fill="#cd853f" stroke="#cd853f" stroke-width="0.7"/>
<circle cx="1042.4" cy="508.0" r="3.45" fill="#cd853f" stroke="#cd853f" stroke-width="0.7"/>
<circle cx="1052.0" cy="554.6" r="3.45" fill="#cd853f" stroke="#cd853f" stroke-width="0.7"/>
<circle cx="1061.7" cy="548.2" r="3.45" fill="#cd853f" stroke="#cd853f" stroke-width="0.7"/>
<circle cx="1071.3" cy="531.2" r="3.45" fill="#cd853f" stroke="#cd853f" stroke-width="0.7"/>
<circle cx="1080.9" cy="508.0" r="3.45" fill="#cd853f" stroke="#cd853f" stroke-width="0.7"/>
<circle cx="1090.6" cy="490.6" r="3.45" fill="#cd853f" stroke="#cd853f" stroke-width="0.7"/>
<circle cx="1100.2" cy="527.0" r="3.45" fill="#cd853f" stroke="#cd853f" stroke-width="0.7"/>
<circle cx="1109.8" cy="637.5" r="3.45" fill="#cd853f" stroke="#cd853f" stroke-width="0.7"/>
<circle cx="1119.5" cy="457.6" r="3.45" fill="#cd853f" stroke="#cd853f" stroke-width="0.7"/>
<circle cx="1129.1" cy="514.3" r="3.45" fill="#cd853f" stroke="#cd853f" stroke-width="0.7"/>
<circle cx="1138.7" cy="228.0" r="3.45" fill="#cd853f" stroke="#cd853f" stroke-width="0.7"/>
<circle cx="1148.4" cy="375.0" r="3.45" fill="#cd853f" stroke="#cd853f" stroke-width="0.7"/>
<circle cx="1158.0" cy="385.0" r="3.45" fill="#cd853f" stroke="#cd853f" stroke-width="0.7"/>
</g>
<g clip-path="url(#ax)">
<polyline points="146.5,682.0 156.1,733.2 165.8,682.8 175.4,720.4 185.0,729.6 194.7,631.6 204.3,638.7 213.9,651.4 223.6,748.0 233.2,711.9 242.8,627.0 252.5,676.5 262.1,707.0 271.7,736.0 281.4,712.6 291.0,710.5 300.6,662.8 310.3,679.8 319.9,748.0 329.5,689.2 339.2,705.5 348.8,678.4 358.4,655.7 368.1,730.5 377.7,681.9 387.3,671.3 397.0,710.6 406.6,638.7 416.2,719.8 425.9,733.3 435.5,697.5 445.1,671.3 454.8,653.6 464.4,665.6 474.0,717.7 483.7,755.3 493.3,761.0 502.9,706.4 512.6,630.9 522.2,677.0 531.8,754.6 541.5,732.4 551.1,789.1 560.7,774.3 570.4,754.4 580.0,682.0 589.6,666.2 599.3,663.4 608.9,697.0 618.5,765.0 628.2,771.4 637.8,789.1 647.4,721.1 657.1,706.2 666.7,687.8 676.3,696.3 686.0,777.1 695.6,712.6 705.2,705.5 714.9,693.5 724.5,703.5 734.1,762.7 743.8,828.6 753.4,794.6 763.0,706.5 772.7,762.7 782.3,782.5 791.9,799.5 801.6,820.1 811.2,777.6 820.8,771.2 830.5,799.5 840.1,791.7 849.7,742.8 859.4,755.6 869.0,747.8 878.6,810.2 888.3,767.6 897.9,713.6 907.5,808.7 917.2,801.0 926.8,772.2 936.4,822.4 946.1,884.7 955.7,860.6 965.3,832.3 975.0,772.7 984.6,777.6 994.2,809.6 1003.9,838.7 1013.5,807.5 1023.1,788.3 1032.8,872.7 1042.4,784.7 1052.0,789.8 1061.7,776.9 1071.3,776.5 1080.9,803.9 1090.6,778.3 1100.2,776.2 1109.8,764.4 1119.5,863.7 1129.1,899.9 1138.7,832.5 1148.4,858.0 1158.0,815.5 1167.6,863.0 1177.3,914.7 1186.9,872.2 1196.5,783.3 1206.2,917.6 1215.8,873.6 1225.4,784.0 1235.1,829.7 1244.7,866.5 1254.3,935.0 1264.0,832.5 1273.6,730.9 1283.2,780.5 1292.9,842.4 1302.5,672.0" fill="none" stroke="#0000ff" stroke-width="3.9" stroke-linejoin="round" stroke-dasharray="14.2 6.1"/>
<circle cx="146.5" cy="682.0" r="3.6" fill="#0000ff" stroke="#0000ff" stroke-width="0.7"/>
<circle cx="156.1" cy="733.2" r="3.6" fill="#0000ff" stroke="#0000ff" stroke-width="0.7"/>
<circle cx="165.8" cy="682.8" r="3.6" fill="#0000ff" stroke="#0000ff" stroke-width="0.7"/>
<circle cx="175.4" cy="720.4" r="3.6" fill="#0000ff" stroke="#0000ff" stroke-width="0.7"/>
<circle cx="185.0" cy="729.6" r="3.6" fill="#0000ff" stroke="#0000ff" stroke-width="0.7"/>
<circle cx="194.7" cy="631.6" r="3.6" fill="#0000ff" stroke="#0000ff" stroke-width="0.7"/>
<circle cx="204.3" cy="638.7" r="3.6" fill="#0000ff" stroke="#0000ff" stroke-width="0.7"/>
<circle cx="213.9" cy="651.4" r="3.6" fill="#0000ff" stroke="#0000ff" stroke-width="0.7"/>
<circle cx="223.6" cy="748.0" r="3.6" fill="#0000ff" stroke="#0000ff" stroke-width="0.7"/>
<circle cx="233.2" cy="711.9" r="3.6" fill="#0000ff" stroke="#0000ff" stroke-width="0.7"/>
<circle cx="242.8" cy="627.0" r="3.6" fill="#0000ff" stroke="#0000ff" stroke-width="0.7"/>
<circle cx="252.5" cy="676.5" r="3.6" fill="#0000ff" stroke="#0000ff" stroke-width="0.7"/>
<circle cx="262.1" cy="707.0" r="3.6" fill="#0000ff" stroke="#0000ff" stroke-width="0.7"/>
<circle cx="271.7" cy="736.0" r="3.6" fill="#0000ff" stroke="#0000ff" stroke-width="0.7"/>
<circle cx="281.4" cy="712.6" r="3.6" fill="#0000ff" stroke="#0000ff" stroke-width="0.7"/>
<circle cx="291.0" cy="710.5" r="3.6" fill="#0000ff" stroke="#0000ff" stroke-width="0.7"/>
<circle cx="300.6" cy="662.8" r="3.6" fill="#0000ff" stroke="#0000ff" stroke-width="0.7"/>
<circle cx="310.3" cy="679.8" r="3.6" fill="#0000ff" stroke="#0000ff" stroke-width="0.7"/>
<circle cx="319.9" cy="748.0" r="3.6" fill="#0000ff" stroke="#0000ff" stroke-width="0.7"/>
<circle cx="329.5" cy="689.2" r="3.6" fill="#0000ff" stroke="#0000ff" stroke-width="0.7"/>
<circle cx="339.2" cy="705.5" r="3.6" fill="#0000ff" stroke="#0000ff" stroke-width="0.7"/>
<circle cx="348.8" cy="678.4" r="3.6" fill="#0000ff" stroke="#0000ff" stroke-width="0.7"/>
<circle cx="358.4" cy="655.7" r="3.6" fill="#0000ff" stroke="#0000ff" stroke-width="0.7"/>
<circle cx="368.1" cy="730.5" r="3.6" fill="#0000ff" stroke="#0000ff" stroke-width="0.7"/>
<circle cx="377.7" cy="681.9" r="3.6" fill="#0000ff" stroke="#0000ff" stroke-width="0.7"/>
<circle cx="387.3" cy="671.3" r="3.6" fill="#0000ff" stroke="#0000ff" stroke-width="0.7"/>
<circle cx="397.0" cy="710.6" r="3.6" fill="#0000ff" stroke="#0000ff" stroke-width="0.7"/>
<circle cx="406.6" cy="638.7" r="3.6" fill="#0000ff" stroke="#0000ff" stroke-width="0.7"/>
<circle cx="416.2" cy="719.8" r="3.6" fill="#0000ff" stroke="#0000ff" stroke-width="0.7"/>
<circle cx="425.9" cy="733.3" r="3.6" fill="#0000ff" stroke="#0000ff" stroke-width="0.7"/>
<circle cx="435.5" cy="697.5" r="3.6" fill="#0000ff" stroke="#0000ff" stroke-width="0.7"/>
<circle cx="445.1" cy="671.3" r="3.6" fill="#0000ff" stroke="#0000ff" stroke-width="0.7"/>
<circle cx="454.8" cy="653.6" r="3.6" fill="#0000ff" stroke="#0000ff" stroke-width="0.7"/>
<circle cx="464.4" cy="665.6" r="3.6" fill="#0000ff" stroke="#0000ff" stroke-width="0.7"/>
<circle cx="474.0" cy="717.7" r="3.6" fill="#0000ff" stroke="#0000ff" stroke-width="0.7"/>
<circle cx="483.7" cy="755.3" r="3.6" fill="#0000ff" stroke="#0000ff" stroke-width="0.7"/>
<circle cx="493.3" cy="761.0" r="3.6" fill="#0000ff" stroke="#0000ff" stroke-width="0.7"/>
<circle cx="502.9" cy="706.4" r="3.6" fill="#0000ff" stroke="#0000ff" stroke-width="0.7"/>
<circle cx="512.6" cy="630.9" r="3.6" fill="#0000ff" stroke="#0000ff" stroke-width="0.7"/>
<circle cx="522.2" cy="677.0" r="3.6" fill="#0000ff" stroke="#0000ff" stroke-width="0.7"/>
<circle cx="531.8" cy="754.6" r="3.6" fill="#0000ff" stroke="#0000ff" stroke-width="0.7"/>
<circle cx="541.5" cy="732.4" r="3.6" fill="#0000ff" stroke="#0000ff" stroke-width="0.7"/>
<circle cx="551.1" cy="789.1" r="3.6" fill="#0000ff" stroke="#0000ff" stroke-width="0.7"/>
<circle cx="560.7" cy="774.3" r="3.6" fill="#0000ff" stroke="#0000ff" stroke-width="0.7"/>
<circle cx="570.4" cy="754.4" r="3.6" fill="#0000ff" stroke="#0000ff" stroke-width="0.7"/>
<circle cx="580.0" cy="682.0" r="3.6" fill="#0000ff" stroke="#0000ff" stroke-width="0.7"/>
<circle cx="589.6" cy="666.2" r="3.6" fill="#0000ff" stroke="#0000ff" stroke-width="0.7"/>
<circle cx="599.3" cy="663.4" r="3.6" fill="#0000ff" stroke="#0000ff" stroke-width="0.7"/>
<circle cx="608.9" cy="697.0" r="3.6" fill="#0000ff" stroke="#0000ff" stroke-width="0.7"/>
<circle cx="618.5" cy="765.0" r="3.6" fill="#0000ff" stroke="#0000ff" stroke-width="0.7"/>
<circle cx="628.2" cy="771.4" r="3.6" fill="#0000ff" stroke="#0000ff" stroke-width="0.7"/>
<circle cx="637.8" cy="789.1" r="3.6" fill="#0000ff" stroke="#0000ff" stroke-width="0.7"/>
<circle cx="647.4" cy="721.1" r="3.6" fill="#0000ff" stroke="#0000ff" stroke-width="0.7"/>
<circle cx="657.1" cy="706.2" r="3.6" fill="#0000ff" stroke="#0000ff" stroke-width="0.7"/>
<circle cx="666.7" cy="687.8" r="3.6" fill="#0000ff" stroke="#0000ff" stroke-width="0.7"/>
<circle cx="676.3" cy="696.3" r="3.6" fill="#0000ff" stroke="#0000ff" stroke-width="0.7"/>
<circle cx="686.0" cy="777.1" r="3.6" fill="#0000ff" stroke="#0000ff" stroke-width="0.7"/>
<circle cx="695.6" cy="712.6" r="3.6" fill="#0000ff" stroke="#0000ff" stroke-width="0.7"/>
<circle cx="705.2" cy="705.5" r="3.6" fill="#0000ff" stroke="#0000ff" stroke-width="0.7"/>
<circle cx="714.9" cy="693.5" r="3.6" fill="#0000ff" stroke="#0000ff" stroke-width="0.7"/>
<circle cx="724.5" cy="703.5" r="3.6" fill="#0000ff" stroke="#0000ff" stroke-width="0.7"/>
<circle cx="734.1" cy="762.7" r="3.6" fill="#0000ff" stroke="#0000ff" stroke-width="0.7"/>
<circle cx="743.8" cy="828.6" r="3.6" fill="#0000ff" stroke="#0000ff" stroke-width="0.7"/>
<circle cx="753.4" cy="794.6" r="3.6" fill="#0000ff" stroke="#0000ff" stroke-width="0.7"/>
<circle cx="763.0" cy="706.5" r="3.6" fill="#0000ff" stroke="#0000ff" stroke-width="0.7"/>
<circle cx="772.7" cy="762.7" r="3.6" fill="#0000ff" stroke="#0000ff" stroke-width="0.7"/>
<circle cx="782.3" cy="782.5" r="3.6" fill="#0000ff" stroke="#0000ff" stroke-width="0.7"/>
<circle cx="791.9" cy="799.5" r="3.6" fill="#0000ff" stroke="#0000ff" stroke-width="0.7"/>
<circle cx="801.6" cy="820.1" r="3.6" fill="#0000ff" stroke="#0000ff" stroke-width="0.7"/>
<circle cx="811.2" cy="777.6" r="3.6" fill="#0000ff" stroke="#0000ff" stroke-width="0.7"/>
<circle cx="820.8" cy="771.2" r="3.6" fill="#0000ff" stroke="#0000ff" stroke-width="0.7"/>
<circle cx="830.5" cy="799.5" r="3.6" fill="#0000ff" stroke="#0000ff" stroke-width="0.7"/>
<circle cx="840.1" cy="791.7" r="3.6" fill="#0000ff" stroke="#0000ff" stroke-width="0.7"/>
<circle cx="849.7" cy="742.8" r="3.6" fill="#0000ff" stroke="#0000ff" stroke-width="0.7"/>
<circle cx="859.4" cy="755.6" r="3.6" fill="#0000ff" stroke="#0000ff" stroke-width="0.7"/>
<circle cx="869.0" cy="747.8" r="3.6" fill="#0000ff" stroke="#0000ff" stroke-width="0.7"/>
<circle cx="878.6" cy="810.2" r="3.6" fill="#0000ff" stroke="#0000ff" stroke-width="0.7"/>
<circle cx="888.3" cy="767.6" r="3.6" fill="#0000ff" stroke="#0000ff" stroke-width="0.7"/>
<circle cx="897.9" cy="713.6" r="3.6" fill="#0000ff" stroke="#0000ff" stroke-width="0.7"/>
<circle cx="907.5" cy="808.7" r="3.6" fill="#0000ff" stroke="#0000ff" stroke-width="0.7"/>
<circle cx="917.2" cy="801.0" r="3.6" fill="#0000ff" stroke="#0000ff" stroke-width="0.7"/>
<circle cx="926.8" cy="772.2" r="3.6" fill="#0000ff" stroke="#0000ff" stroke-width="0.7"/>
<circle cx="936.4" cy="822.4" r="3.6" fill="#0000ff" stroke="#0000ff" stroke-width="0.7"/>
<circle cx="946.1" cy="884.7" r="3.6" fill="#0000ff" stroke="#0000ff" stroke-width="0.7"/>
<circle cx="955.7" cy="860.6" r="3.6" fill="#0000ff" stroke="#0000ff" stroke-width="0.7"/>
<circle cx="965.3" cy="832.3" r="3.6" fill="#0000ff" stroke="#0000ff" stroke-width="0.7"/>
<circle cx="975.0" cy="772.7" r="3.6" fill="#0000ff" stroke="#0000ff" stroke-width="0.7"/>
<circle cx="984.6" cy="777.6" r="3.6" fill="#0000ff" stroke="#0000ff" stroke-width="0.7"/>
<circle cx="994.2" cy="809.6" r="3.6" fill="#0000ff" stroke="#0000ff" stroke-width="0.7"/>
<circle cx="1003.9" cy="838.7" r="3.6" fill="#0000ff" stroke="#0000ff" stroke-width="0.7"/>
<circle cx="1013.5" cy="807.5" r="3.6" fill="#0000ff" stroke="#0000ff" stroke-width="0.7"/>
<circle cx="1023.1" cy="788.3" r="3.6" fill="#0000ff" stroke="#0000ff" stroke-width="0.7"/>
<circle cx="1032.8" cy="872.7" r="3.6" fill="#0000ff" stroke="#0000ff" stroke-width="0.7"/>
<circle cx="1042.4" cy="784.7" r="3.6" fill="#0000ff" stroke="#0000ff" stroke-width="0.7"/>
<circle cx="1052.0" cy="789.8" r="3.6" fill="#0000ff" stroke="#0000ff" stroke-width="0.7"/>
<circle cx="1061.7" cy="776.9" r="3.6" fill="#0000ff" stroke="#0000ff" stroke-width="0.7"/>
<circle cx="1071.3" cy="776.5" r="3.6" fill="#0000ff" stroke="#0000ff" stroke-width="0.7"/>
<circle cx="1080.9" cy="803.9" r="3.6" fill="#0000ff" stroke="#0000ff" stroke-width="0.7"/>
<circle cx="1090.6" cy="778.3" r="3.6" fill="#0000ff" stroke="#0000ff" stroke-width="0.7"/>
<circle cx="1100.2" cy="776.2" r="3.6" fill="#0000ff" stroke="#0000ff" stroke-width="0.7"/>
<circle cx="1109.8" cy="764.4" r="3.6" fill="#0000ff" stroke="#0000ff" stroke-width="0.7"/>
<circle cx="1119.5" cy="863.7" r="3.6" fill="#0000ff" stroke="#0000ff" stroke-width="0.7"/>
<circle cx="1129.1" cy="899.9" r="3.6" fill="#0000ff" stroke="#0000ff" stroke-width="0.7"/>
<circle cx="1138.7" cy="832.5" r="3.6" fill="#0000ff" stroke="#0000ff" stroke-width="0.7"/>
<circle cx="1148.4" cy="858.0" r="3.6" fill="#0000ff" stroke="#0000ff" stroke-width="0.7"/>
<circle cx="1158.0" cy="815.5" r="3.6" fill="#0000ff" stroke="#0000ff" stroke-width="0.7"/>
<circle cx="1167.6" cy="863.0" r="3.6" fill="#0000ff" stroke="#0000ff" stroke-width="0.7"/>
<circle cx="1177.3" cy="914.7" r="3.6" fill="#0000ff" stroke="#0000ff" stroke-width="0.7"/>
<circle cx="1186.9" cy="872.2" r="3.6" fill="#0000ff" stroke="#0000ff" stroke-width="0.7"/>
<circle cx="1196.5" cy="783.3" r="3.6" fill="#0000ff" stroke="#0000ff" stroke-width="0.7"/>
<circle cx="1206.2" cy="917.6" r="3.6" fill="#0000ff" stroke="#0000ff" stroke-width="0.7"/>
<circle cx="1215.8" cy="873.6" r="3.6" fill="#0000ff" stroke="#0000ff" stroke-width="0.7"/>
<circle cx="1225.4" cy="784.0" r="3.6" fill="#0000ff" stroke="#0000ff" stroke-width="0.7"/>
<circle cx="1235.1" cy="829.7" r="3.6" fill="#0000ff" stroke="#0000ff" stroke-width="0.7"/>
<circle cx="1244.7" cy="866.5" r="3.6" fill="#0000ff" stroke="#0000ff" stroke-width="0.7"/>
<circle cx="1254.3" cy="935.0" r="3.6" fill="#0000ff" stroke="#0000ff" stroke-width="0.7"/>
<circle cx="1264.0" cy="832.5" r="3.6" fill="#0000ff" stroke="#0000ff" stroke-width="0.7"/>
<circle cx="1273.6" cy="730.9" r="3.6" fill="#0000ff" stroke="#0000ff" stroke-width="0.7"/>
<circle cx="1283.2" cy="780.5" r="3.6" fill="#0000ff" stroke="#0000ff" stroke-width="0.7"/>
<circle cx="1292.9" cy="842.4" r="3.6" fill="#0000ff" stroke="#0000ff" stroke-width="0.7"/>
<circle cx="1302.5" cy="672.0" r="3.6" fill="#0000ff" stroke="#0000ff" stroke-width="0.7"/>
</g>
<g clip-path="url(#ax)">
<polyline points="242.8,551.4 647.4,780.8 1090.6,927.6 1196.5,940.3 1254.3,940.3 1264.0,940.3 1292.9,940.3" fill="none" stroke="#808000" stroke-width="4.6" stroke-dasharray="17.3 7.2" stroke-linejoin="round"/>
<polygon points="242.83,546.05 246.66,542.23 252.03,547.60 248.21,551.43 252.03,555.25 246.66,560.63 242.83,556.80 239.01,560.63 233.63,555.25 237.46,551.43 233.63,547.60 239.01,542.23" fill="#808000"/>
<polygon points="647.43,775.47 651.26,771.64 656.63,777.02 652.81,780.84 656.63,784.67 651.26,790.04 647.43,786.22 643.61,790.04 638.23,784.67 642.06,780.84 638.23,777.02 643.61,771.64" fill="#808000"/>
<polygon points="1090.57,922.25 1094.39,918.43 1099.77,923.80 1095.94,927.63 1099.77,931.45 1094.39,936.83 1090.57,933.00 1086.74,936.83 1081.37,931.45 1085.19,927.63 1081.37,923.80 1086.74,918.43" fill="#808000"/>
<polygon points="1196.53,934.93 1200.36,931.10 1205.73,936.47 1201.91,940.30 1205.73,944.13 1200.36,949.50 1196.53,945.67 1192.71,949.50 1187.33,944.13 1191.16,940.30 1187.33,936.47 1192.71,931.10" fill="#808000"/>
<polygon points="1254.33,934.93 1258.16,931.10 1263.53,936.47 1259.71,940.30 1263.53,944.13 1258.16,949.50 1254.33,945.67 1250.51,949.50 1245.13,944.13 1248.96,940.30 1245.13,936.47 1250.51,931.10" fill="#808000"/>
<polygon points="1263.97,934.93 1267.79,931.10 1273.17,936.47 1269.34,940.30 1273.17,944.13 1267.79,949.50 1263.97,945.67 1260.14,949.50 1254.77,944.13 1258.59,940.30 1254.77,936.47 1260.14,931.10" fill="#808000"/>
<polygon points="1292.87,934.93 1296.69,931.10 1302.07,936.47 1298.24,940.30 1302.07,944.13 1296.69,949.50 1292.87,945.67 1289.04,949.50 1283.67,944.13 1287.49,940.30 1283.67,936.47 1289.04,931.10" fill="#808000"/>
<polyline points="242.8,49.6 647.4,515.0 1090.6,838.5 1196.5,896.5 1254.3,911.5 1264.0,919.0 1292.9,928.7" fill="none" stroke="#808000" stroke-width="4.7" stroke-linejoin="round" stroke-linecap="square"/>
<polygon points="242.83,37.26 255.13,49.56 242.83,61.86 230.53,49.56" fill="#808000"/>
<polygon points="647.43,502.70 659.73,515.00 647.43,527.30 635.13,515.00" fill="#808000"/>
<polygon points="1090.57,826.20 1102.87,838.50 1090.57,850.80 1078.27,838.50" fill="#808000"/>
<polygon points="1196.53,884.18 1208.83,896.48 1196.53,908.78 1184.23,896.48" fill="#808000"/>
<polygon points="1254.33,899.22 1266.63,911.52 1254.33,923.82 1242.03,911.52" fill="#808000"/>
<polygon points="1263.97,906.70 1276.27,919.00 1263.97,931.30 1251.67,919.00" fill="#808000"/>
<polygon points="1292.87,916.38 1305.17,928.68 1292.87,940.98 1280.57,928.68" fill="#808000"/>
</g>
<line x1="146.5" y1="16.3" x2="146.5" y2="940.3" stroke="#000" stroke-width="2.6" stroke-linecap="square"/>
<line x1="1302.5" y1="16.3" x2="1302.5" y2="940.3" stroke="#808000" stroke-width="2.6" stroke-linecap="square"/>
<line x1="146.5" y1="940.3" x2="1302.5" y2="940.3" stroke="#000" stroke-width="2.6" stroke-linecap="square"/>
<line x1="146.5" y1="16.3" x2="1302.5" y2="16.3" stroke="#000" stroke-width="2.6" stroke-linecap="square"/>
<line x1="128.9" y1="940.30" x2="146.5" y2="940.30" stroke="#000" stroke-width="4"/>
<text x="119.3" y="951.7" font-family='"Liberation Sans", sans-serif' font-size="31.7" font-weight="normal" fill="#000" text-anchor="end" transform="matrix(1.0700,0,0,1,-8.351,0)">1.0</text>
<rect x="48.9" y="940.95" width="19.6" height="2.7" fill="#000"/>
<line x1="128.9" y1="808.30" x2="146.5" y2="808.30" stroke="#000" stroke-width="4"/>
<text x="119.3" y="819.7" font-family='"Liberation Sans", sans-serif' font-size="31.7" font-weight="normal" fill="#000" text-anchor="end" transform="matrix(1.0700,0,0,1,-8.351,0)">0.5</text>
<rect x="48.9" y="808.95" width="19.6" height="2.7" fill="#000"/>
<line x1="128.9" y1="676.30" x2="146.5" y2="676.30" stroke="#000" stroke-width="4"/>
<text x="119.3" y="687.7" font-family='"Liberation Sans", sans-serif' font-size="31.7" font-weight="normal" fill="#000" text-anchor="end" transform="matrix(1.0700,0,0,1,-8.351,0)">0.0</text>
<line x1="128.9" y1="544.30" x2="146.5" y2="544.30" stroke="#000" stroke-width="4"/>
<text x="119.3" y="555.7" font-family='"Liberation Sans", sans-serif' font-size="31.7" font-weight="normal" fill="#000" text-anchor="end" transform="matrix(1.0700,0,0,1,-8.351,0)">0.5</text>
<line x1="128.9" y1="412.30" x2="146.5" y2="412.30" stroke="#000" stroke-width="4"/>
<text x="119.3" y="423.7" font-family='"Liberation Sans", sans-serif' font-size="31.7" font-weight="normal" fill="#000" text-anchor="end" transform="matrix(1.0700,0,0,1,-8.351,0)">1.0</text>
<line x1="128.9" y1="280.30" x2="146.5" y2="280.30" stroke="#000" stroke-width="4"/>
<text x="119.3" y="291.7" font-family='"Liberation Sans", sans-serif' font-size="31.7" font-weight="normal" fill="#000" text-anchor="end" transform="matrix(1.0700,0,0,1,-8.351,0)">1.5</text>
<line x1="128.9" y1="148.30" x2="146.5" y2="148.30" stroke="#000" stroke-width="4"/>
<text x="119.3" y="159.7" font-family='"Liberation Sans", sans-serif' font-size="31.7" font-weight="normal" fill="#000" text-anchor="end" transform="matrix(1.0700,0,0,1,-8.351,0)">2.0</text>
<line x1="128.9" y1="16.30" x2="146.5" y2="16.30" stroke="#000" stroke-width="4"/>
<text x="119.3" y="27.7" font-family='"Liberation Sans", sans-serif' font-size="31.7" font-weight="normal" fill="#000" text-anchor="end" transform="matrix(1.0700,0,0,1,-8.351,0)">2.5</text>
<line x1="1302.5" y1="940.30" x2="1320.1" y2="940.30" stroke="#808000" stroke-width="4"/>
<text x="1329.3" y="952.1" font-family='"Liberation Sans", sans-serif' font-size="31.7" font-weight="normal" fill="#808000" text-anchor="start" transform="matrix(1.0700,0,0,1,-93.051,0)">0.0</text>
<line x1="1302.5" y1="808.30" x2="1320.1" y2="808.30" stroke="#808000" stroke-width="4"/>
<text x="1329.3" y="820.1" font-family='"Liberation Sans", sans-serif' font-size="31.7" font-weight="normal" fill="#808000" text-anchor="start" transform="matrix(1.0700,0,0,1,-93.051,0)">0.5</text>
<line x1="1302.5" y1="676.30" x2="1320.1" y2="676.30" stroke="#808000" stroke-width="4"/>
<text x="1329.3" y="688.1" font-family='"Liberation Sans", sans-serif' font-size="31.7" font-weight="normal" fill="#808000" text-anchor="start" transform="matrix(1.0700,0,0,1,-93.051,0)">1.0</text>
<line x1="1302.5" y1="544.30" x2="1320.1" y2="544.30" stroke="#808000" stroke-width="4"/>
<text x="1329.3" y="556.1" font-family='"Liberation Sans", sans-serif' font-size="31.7" font-weight="normal" fill="#808000" text-anchor="start" transform="matrix(1.0700,0,0,1,-93.051,0)">1.5</text>
<line x1="1302.5" y1="412.30" x2="1320.1" y2="412.30" stroke="#808000" stroke-width="4"/>
<text x="1329.3" y="424.1" font-family='"Liberation Sans", sans-serif' font-size="31.7" font-weight="normal" fill="#808000" text-anchor="start" transform="matrix(1.0700,0,0,1,-93.051,0)">2.0</text>
<line x1="1302.5" y1="280.30" x2="1320.1" y2="280.30" stroke="#808000" stroke-width="4"/>
<text x="1329.3" y="292.1" font-family='"Liberation Sans", sans-serif' font-size="31.7" font-weight="normal" fill="#808000" text-anchor="start" transform="matrix(1.0700,0,0,1,-93.051,0)">2.5</text>
<line x1="1302.5" y1="148.30" x2="1320.1" y2="148.30" stroke="#808000" stroke-width="4"/>
<text x="1329.3" y="160.1" font-family='"Liberation Sans", sans-serif' font-size="31.7" font-weight="normal" fill="#808000" text-anchor="start" transform="matrix(1.0700,0,0,1,-93.051,0)">3.0</text>
<line x1="1302.5" y1="16.30" x2="1320.1" y2="16.30" stroke="#808000" stroke-width="4"/>
<text x="1329.3" y="28.1" font-family='"Liberation Sans", sans-serif' font-size="31.7" font-weight="normal" fill="#808000" text-anchor="start" transform="matrix(1.0700,0,0,1,-93.051,0)">3.5</text>
<line x1="146.50" y1="940.3" x2="146.50" y2="957.8" stroke="#000" stroke-width="4"/>
<text x="147.0" y="990.8" font-family='"Liberation Sans", sans-serif' font-size="31.7" font-weight="normal" fill="#000" text-anchor="middle" transform="matrix(1.1000,0,0,1,-14.700,0)">1900</text>
<line x1="339.17" y1="940.3" x2="339.17" y2="957.8" stroke="#000" stroke-width="4"/>
<text x="339.67" y="990.8" font-family='"Liberation Sans", sans-serif' font-size="31.7" font-weight="normal" fill="#000" text-anchor="middle" transform="matrix(1.1000,0,0,1,-33.967,0)">1920</text>
<line x1="531.83" y1="940.3" x2="531.83" y2="957.8" stroke="#000" stroke-width="4"/>
<text x="532.33" y="990.8" font-family='"Liberation Sans", sans-serif' font-size="31.7" font-weight="normal" fill="#000" text-anchor="middle" transform="matrix(1.1000,0,0,1,-53.233,0)">1940</text>
<line x1="724.50" y1="940.3" x2="724.50" y2="957.8" stroke="#000" stroke-width="4"/>
<text x="725.0" y="990.8" font-family='"Liberation Sans", sans-serif' font-size="31.7" font-weight="normal" fill="#000" text-anchor="middle" transform="matrix(1.1000,0,0,1,-72.500,0)">1960</text>
<line x1="917.17" y1="940.3" x2="917.17" y2="957.8" stroke="#000" stroke-width="4"/>
<text x="917.67" y="990.8" font-family='"Liberation Sans", sans-serif' font-size="31.7" font-weight="normal" fill="#000" text-anchor="middle" transform="matrix(1.1000,0,0,1,-91.767,0)">1980</text>
<line x1="1109.83" y1="940.3" x2="1109.83" y2="957.8" stroke="#000" stroke-width="4"/>
<text x="1110.33" y="990.8" font-family='"Liberation Sans", sans-serif' font-size="31.7" font-weight="normal" fill="#000" text-anchor="middle" transform="matrix(1.1000,0,0,1,-111.033,0)">2000</text>
<line x1="1302.50" y1="940.3" x2="1302.50" y2="957.8" stroke="#000" stroke-width="4"/>
<text x="1303.0" y="990.8" font-family='"Liberation Sans", sans-serif' font-size="31.7" font-weight="normal" fill="#000" text-anchor="middle" transform="matrix(1.1000,0,0,1,-130.300,0)">2020</text>
<text x="725" y="1030" font-family='"Liberation Sans", sans-serif' font-size="32.2" font-weight="bold" fill="#000" text-anchor="middle" transform="matrix(1.1170,0,0,1,-84.825,0)">Year</text>
<text x="30" y="478.5" font-family='"Liberation Sans", sans-serif' font-size="33.0" font-weight="bold" fill="#000" text-anchor="middle" transform="rotate(-90 30 478.5) matrix(1.0690,0,0,1,-2.070,0)">SAT Anomaly (°C)</text>
<text x="1411" y="479" font-family='"Liberation Sans", sans-serif' font-size="33.0" font-weight="bold" fill="#808000" text-anchor="middle" transform="rotate(-90 1411 479) matrix(1.1060,0,0,1,-149.566,0)">Area km²</text>
<text x="723.3" y="312.2" font-family='"Liberation Sans", sans-serif' font-size="32.3" font-weight="normal" fill="#000" text-anchor="start" textLength="248.3" lengthAdjust="spacingAndGlyphs">Industrial Period</text>
<rect x="500.9" y="29.4" width="788.5000000000001" height="118.6" fill="#ffffff" fill-opacity="0.5" stroke="#cccccc" stroke-opacity="0.5" stroke-width="2"/>
<line x1="511.2" y1="49.6" x2="561.8" y2="49.6" stroke="#000000" stroke-width="4.0" stroke-linecap="square"/>
<circle cx="536.50" cy="49.6" r="3.5" fill="#000000" stroke="#000000" stroke-width="0.7"/>
<text x="581.7" y="59.2" font-family='"Liberation Sans", sans-serif' font-size="27.0" font-weight="normal" fill="#000" text-anchor="start" transform="matrix(0.9760,0,0,1,13.961,0)">HadCRUT5</text>
<line x1="511.2" y1="86.8" x2="561.8" y2="86.8" stroke="#8b0000" stroke-width="2.2" stroke-linecap="square"/>
<circle cx="536.50" cy="86.8" r="3.5" fill="#a52a2a" stroke="#8b0000" stroke-width="0.7"/>
<text x="582.5" y="96.39999999999999" font-family='"Liberation Sans", sans-serif' font-size="27.0" font-weight="normal" fill="#000" text-anchor="start" transform="matrix(1.0640,0,0,1,-37.280,0)">All (Ant+NAT)</text>
<line x1="511.2" y1="124.0" x2="561.8" y2="124.0" stroke="#ff0000" stroke-width="4.0" stroke-linecap="square"/>
<circle cx="536.50" cy="124.0" r="3.5" fill="#ff0000" stroke="#ff0000" stroke-width="0.7"/>
<text x="582.5" y="133.6" font-family='"Liberation Sans", sans-serif' font-size="27.0" font-weight="normal" fill="#000" text-anchor="start" transform="matrix(1.0600,0,0,1,-34.950,0)">Ant</text>
<line x1="806.5" y1="49.6" x2="857.1" y2="49.6" stroke="#008000" stroke-width="3.9" stroke-linecap="square"/>
<circle cx="831.80" cy="49.6" r="3.5" fill="#008000" stroke="#008000" stroke-width="0.7"/>
<text x="876.7" y="59.2" font-family='"Liberation Sans", sans-serif' font-size="27.0" font-weight="normal" fill="#000" text-anchor="start" transform="matrix(0.9810,0,0,1,16.657,0)">GHG</text>
<line x1="806.5" y1="86.8" x2="857.1" y2="86.8" stroke="#cd853f" stroke-width="3.6" stroke-dasharray="14.2 6.1"/>
<circle cx="831.80" cy="86.8" r="3.5" fill="#cd853f" stroke="#cd853f" stroke-width="0.7"/>
<text x="876.7" y="96.39999999999999" font-family='"Liberation Sans", sans-serif' font-size="27.0" font-weight="normal" fill="#000" text-anchor="start" transform="matrix(0.9570,0,0,1,37.698,0)">LU</text>
<line x1="806.5" y1="124.0" x2="857.1" y2="124.0" stroke="#0000ff" stroke-width="3.9" stroke-dasharray="14.2 6.1"/>
<circle cx="831.80" cy="124.0" r="3.5" fill="#0000ff" stroke="#0000ff" stroke-width="0.7"/>
<text x="877.2" y="133.6" font-family='"Liberation Sans", sans-serif' font-size="27.0" font-weight="normal" fill="#000" text-anchor="start" transform="matrix(1.0680,0,0,1,-59.650,0)">Aaer</text>
<line x1="987.1" y1="49.6" x2="1037.7" y2="49.6" stroke="#808000" stroke-width="4.6" stroke-dasharray="17.3 7.2"/>
<polygon points="1012.40,44.23 1016.23,40.40 1021.60,45.77 1017.77,49.60 1021.60,53.43 1016.23,58.80 1012.40,54.97 1008.57,58.80 1003.20,53.43 1007.03,49.60 1003.20,45.77 1008.57,40.40" fill="#808000"/>
<text x="1057.75" y="59.2" font-family='"Liberation Sans", sans-serif' font-size="27.0" font-weight="normal" fill="#000" text-anchor="start" transform="matrix(1.0590,0,0,1,-62.407,0)">Bolivar Glacier</text>
<line x1="987.1" y1="86.8" x2="1037.7" y2="86.8" stroke="#808000" stroke-width="4.7" stroke-linecap="square"/>
<polygon points="1012.40,74.50 1024.70,86.80 1012.40,99.10 1000.10,86.80" fill="#808000"/>
<text x="1057.7" y="96.39999999999999" font-family='"Liberation Sans", sans-serif' font-size="27.0" font-weight="normal" fill="#000" text-anchor="start" transform="matrix(1.0670,0,0,1,-70.866,0)">Humboldt Glacier</text>
</svg></body></html>
